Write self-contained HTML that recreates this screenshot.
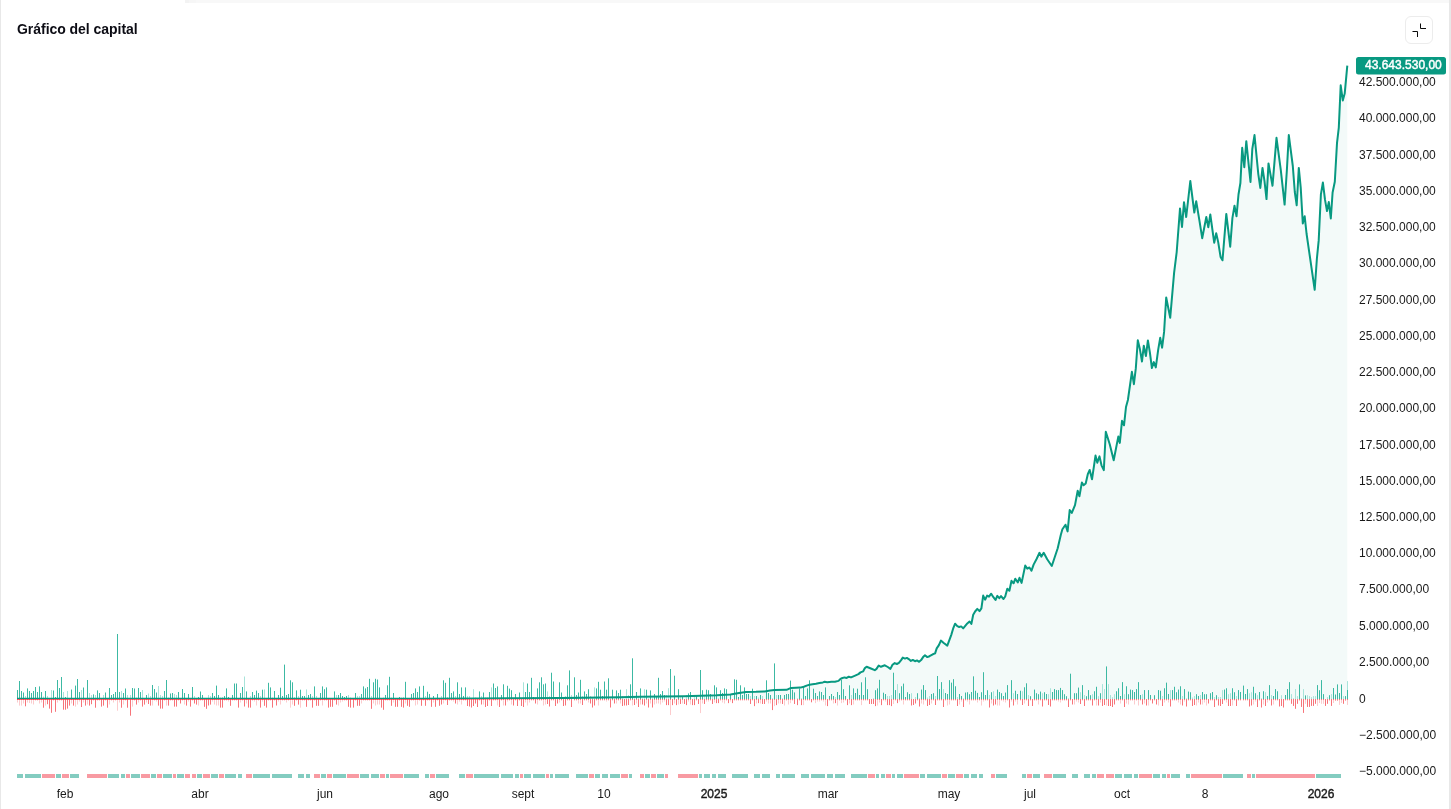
<!DOCTYPE html>
<html><head><meta charset="utf-8"><title>Gráfico del capital</title>
<style>
html,body{margin:0;padding:0;background:#fff;}
body{width:1451px;height:809px;position:relative;overflow:hidden;font-family:"Liberation Sans",sans-serif;color:#191919;}
.title,.yl,.xl,.badge{will-change:transform;}
.lb{position:absolute;left:0;top:0;width:1px;height:809px;background:#e8e8e8;}
.rb{position:absolute;left:1449px;top:0;width:2px;height:809px;background:#e8e8e8;}
.tb{position:absolute;left:185px;top:0;width:1264px;height:3px;background:linear-gradient(to right,#f3f3f3 0,#f3f3f3 4px,#f6f6f6 4px,#f6f6f6 11px,#f8f8f8 11px);}
.title{position:absolute;left:17px;top:21px;font-size:14px;font-weight:bold;line-height:16px;color:#0c0c14;letter-spacing:-0.04px;white-space:nowrap;}
.btn{position:absolute;left:1405px;top:16px;width:26px;height:26px;border:1px solid #ececec;border-radius:6px;background:#fff;}
.yl{position:absolute;left:1359px;font-size:12px;line-height:14px;height:14px;white-space:nowrap;color:#191919;}
.xl{position:absolute;top:787px;font-size:12px;line-height:14px;height:14px;white-space:nowrap;color:#191919;transform:translateX(-50%);}
.xl.b{font-weight:normal;-webkit-text-stroke:0.4px #191919;}
.badge{position:absolute;left:1356px;top:57px;width:90px;height:17px;color:#fff;font-size:12px;font-weight:normal;-webkit-text-stroke:0.45px #fff;line-height:17px;text-align:left;}
.badge span{position:absolute;left:9px;top:0;}
svg{position:absolute;left:0;top:0;}
</style></head><body>
<div class="lb"></div><div class="rb"></div><div class="tb"></div>
<div class="title">Gráfico del capital</div>
<div class="btn"><svg width="26" height="26" viewBox="0 0 26 26"><path d="M14.5 6.5v5h5.5M6.5 14.5h5v5.5" fill="none" stroke="#0a0a0a" stroke-width="1"/></svg></div>
<svg width="1451" height="809" viewBox="0 0 1451 809">
<path d="M17.0,698.7 L420.0,698.7 L480.0,698.5 L520.0,698.3 L560.0,698.1 L600.0,697.6 L620.0,697.2 L640.0,696.8 L662.0,696.5 L684.0,696.2 L700.6,695.8 L717.0,695.3 L730.4,694.5 L739.0,693.1 L746.0,692.0 L756.0,691.8 L764.6,691.4 L770.0,690.6 L774.5,690.1 L786.6,689.8 L791.0,687.9 L796.0,687.7 L800.0,687.6 L800.4,687.6 L803.8,686.7 L807.3,685.4 L809.5,684.8 L812.5,684.3 L816.0,683.8 L819.4,683.0 L822.9,682.4 L824.6,681.8 L827.2,682.3 L831.5,681.7 L835.0,681.8 L838.5,680.9 L840.2,679.2 L841.9,678.2 L844.5,677.4 L846.7,677.9 L848.8,676.7 L851.0,677.4 L854.0,676.1 L858.4,674.1 L860.5,672.4 L863.1,671.4 L864.9,668.1 L866.6,666.8 L870.9,668.5 L874.8,670.2 L876.5,668.9 L878.7,665.5 L880.9,666.8 L884.8,665.3 L887.8,667.0 L890.4,668.9 L892.5,664.7 L894.7,663.1 L896.9,664.0 L898.9,662.9 L901.1,660.1 L902.8,657.6 L905.0,658.6 L906.9,657.9 L909.1,659.3 L910.9,660.9 L912.8,659.9 L915.0,661.2 L917.0,660.4 L919.1,661.8 L921.1,660.1 L923.1,657.1 L925.0,655.3 L927.3,657.1 L929.5,656.2 L932.8,654.3 L935.1,653.4 L936.7,648.4 L938.9,645.1 L940.9,640.6 L943.4,642.8 L947.3,645.6 L951.2,635.1 L953.4,627.8 L955.1,623.7 L957.3,626.2 L959.2,627.0 L961.2,626.4 L963.2,628.4 L967.3,623.4 L969.5,621.5 L971.4,623.9 L973.2,614.8 L975.1,611.5 L977.3,608.9 L979.5,611.1 L981.4,608.4 L983.2,595.6 L985.1,599.7 L987.1,595.6 L989.0,596.7 L991.2,593.7 L993.4,597.2 L995.5,600.0 L997.3,595.9 L999.3,598.2 L1001.0,596.1 L1003.5,599.0 L1005.2,596.5 L1007.3,588.7 L1009.4,590.8 L1011.5,580.8 L1013.6,583.3 L1015.3,578.7 L1017.8,582.4 L1019.5,577.8 L1021.6,582.9 L1025.2,565.6 L1027.3,568.6 L1029.4,567.5 L1031.5,570.7 L1033.6,564.6 L1036.7,558.7 L1039.5,552.8 L1041.3,556.6 L1043.7,552.8 L1047.2,559.3 L1051.8,566.0 L1057.7,548.2 L1060.9,534.5 L1062.4,529.3 L1065.5,524.7 L1067.6,531.4 L1069.7,510.0 L1071.8,512.9 L1075.0,505.1 L1077.7,490.8 L1079.4,496.3 L1081.9,482.4 L1083.6,485.2 L1085.7,483.5 L1087.8,474.2 L1089.7,470.0 L1092.0,479.3 L1095.5,455.6 L1097.3,462.7 L1099.5,456.4 L1101.5,465.3 L1103.8,470.2 L1105.8,431.7 L1109.8,444.5 L1113.7,460.3 L1118.3,436.6 L1119.8,442.9 L1122.0,420.8 L1124.0,425.3 L1126.0,407.0 L1127.9,400.0 L1131.9,371.8 L1133.9,384.2 L1135.8,368.4 L1137.8,340.2 L1139.8,348.7 L1142.0,361.5 L1143.8,345.7 L1145.9,356.0 L1147.9,340.4 L1149.9,352.6 L1151.9,368.0 L1153.8,362.1 L1155.8,367.4 L1158.2,349.6 L1160.2,337.8 L1162.1,347.7 L1164.1,331.9 L1166.2,297.5 L1170.2,317.8 L1174.1,272.8 L1176.7,252.0 L1180.0,208.5 L1182.0,226.9 L1184.0,202.2 L1186.2,217.0 L1190.3,181.0 L1194.3,212.5 L1196.2,201.2 L1199.4,220.4 L1202.2,238.2 L1206.3,217.0 L1208.3,227.3 L1210.3,214.5 L1214.2,242.7 L1216.2,233.2 L1218.2,242.1 L1220.6,257.0 L1222.5,260.3 L1226.3,213.9 L1230.2,246.7 L1232.4,218.2 L1234.5,205.7 L1236.5,216.3 L1238.5,194.5 L1240.4,183.0 L1242.2,147.8 L1244.3,167.2 L1246.3,141.2 L1248.3,161.2 L1250.5,181.9 L1252.3,149.0 L1254.5,135.1 L1258.3,174.1 L1260.3,187.9 L1262.5,167.9 L1264.5,181.2 L1266.5,199.1 L1268.5,163.4 L1270.5,174.6 L1272.5,185.7 L1276.5,137.8 L1280.8,170.1 L1284.6,204.6 L1286.8,171.2 L1288.8,135.1 L1292.8,166.0 L1294.8,192.0 L1296.7,205.3 L1298.8,167.9 L1300.7,187.3 L1302.8,223.5 L1304.7,216.3 L1306.6,234.0 L1314.7,289.8 L1316.9,258.5 L1318.7,240.4 L1320.9,194.3 L1322.9,182.5 L1325.0,199.7 L1327.0,211.1 L1328.8,202.0 L1330.8,218.5 L1332.6,192.5 L1334.8,181.7 L1337.0,143.1 L1338.8,127.6 L1340.7,85.3 L1342.8,100.4 L1344.7,93.6 L1347.3,65.7 L1347.3,699 L17,699 Z" fill="#f3faf9" stroke="none"/>
<g>
<rect x="17" y="690.00" width="1" height="9.00" fill="#3cb9a3"/>
<rect x="17" y="699.00" width="1" height="1.30" fill="#f7747a"/>
<rect x="17" y="700.40" width="1" height="2.10" fill="#fccbcd"/>
<rect x="19" y="681.00" width="1" height="18.00" fill="#3cb9a3"/>
<rect x="19" y="699.00" width="1" height="1.30" fill="#f7747a"/>
<rect x="19" y="700.40" width="1" height="5.20" fill="#fccbcd"/>
<rect x="21" y="691.00" width="1" height="8.00" fill="#3cb9a3"/>
<rect x="21" y="699.00" width="1" height="1.30" fill="#f7747a"/>
<rect x="21" y="700.40" width="1" height="5.20" fill="#fccbcd"/>
<rect x="23" y="692.50" width="1" height="6.50" fill="#3cb9a3"/>
<rect x="23" y="699.00" width="1" height="1.30" fill="#f7747a"/>
<rect x="23" y="700.40" width="1" height="3.10" fill="#fccbcd"/>
<rect x="25" y="696.00" width="1" height="3.00" fill="#a8e4da"/>
<rect x="25" y="699.00" width="1" height="7.30" fill="#f7747a"/>
<rect x="27" y="688.40" width="1" height="10.60" fill="#3cb9a3"/>
<rect x="27" y="699.00" width="1" height="1.30" fill="#f7747a"/>
<rect x="27" y="700.40" width="1" height="2.10" fill="#fccbcd"/>
<rect x="29" y="691.00" width="1" height="8.00" fill="#3cb9a3"/>
<rect x="29" y="699.00" width="1" height="1.30" fill="#f7747a"/>
<rect x="29" y="700.40" width="1" height="2.60" fill="#fccbcd"/>
<rect x="31" y="693.00" width="1" height="6.00" fill="#3cb9a3"/>
<rect x="31" y="699.00" width="1" height="1.30" fill="#f7747a"/>
<rect x="31" y="700.40" width="1" height="3.10" fill="#fccbcd"/>
<rect x="33" y="691.00" width="1" height="8.00" fill="#3cb9a3"/>
<rect x="33" y="699.00" width="1" height="1.30" fill="#f7747a"/>
<rect x="33" y="700.40" width="1" height="4.10" fill="#fccbcd"/>
<rect x="35" y="687.00" width="1" height="12.00" fill="#3cb9a3"/>
<rect x="35" y="699.00" width="1" height="1.30" fill="#f7747a"/>
<rect x="37" y="692.00" width="1" height="7.00" fill="#3cb9a3"/>
<rect x="37" y="699.00" width="1" height="1.30" fill="#f7747a"/>
<rect x="39" y="686.40" width="1" height="12.60" fill="#3cb9a3"/>
<rect x="39" y="699.00" width="1" height="1.30" fill="#f7747a"/>
<rect x="39" y="700.40" width="1" height="3.10" fill="#fccbcd"/>
<rect x="41" y="692.00" width="1" height="7.00" fill="#3cb9a3"/>
<rect x="41" y="699.00" width="1" height="1.30" fill="#f7747a"/>
<rect x="41" y="700.40" width="1" height="2.10" fill="#fccbcd"/>
<rect x="43" y="696.50" width="1" height="2.50" fill="#a8e4da"/>
<rect x="43" y="699.00" width="1" height="8.70" fill="#f7747a"/>
<rect x="45" y="691.00" width="1" height="8.00" fill="#3cb9a3"/>
<rect x="45" y="699.00" width="1" height="1.30" fill="#f7747a"/>
<rect x="45" y="700.40" width="1" height="5.10" fill="#fccbcd"/>
<rect x="47" y="696.00" width="1" height="3.00" fill="#a8e4da"/>
<rect x="47" y="699.00" width="1" height="5.20" fill="#f7747a"/>
<rect x="49" y="698.20" width="1" height="0.80" fill="#a8e4da"/>
<rect x="49" y="699.00" width="1" height="9.60" fill="#f7747a"/>
<rect x="51" y="690.00" width="1" height="9.00" fill="#a8e4da"/>
<rect x="51" y="699.00" width="1" height="13.80" fill="#f7747a"/>
<rect x="53" y="690.50" width="1" height="8.50" fill="#3cb9a3"/>
<rect x="53" y="699.00" width="1" height="1.30" fill="#f7747a"/>
<rect x="55" y="697.00" width="1" height="2.00" fill="#3cb9a3"/>
<rect x="55" y="699.00" width="1" height="12.80" fill="#f7747a"/>
<rect x="57" y="680.00" width="1" height="19.00" fill="#3cb9a3"/>
<rect x="57" y="699.00" width="1" height="1.30" fill="#f7747a"/>
<rect x="57" y="700.40" width="1" height="2.10" fill="#fccbcd"/>
<rect x="59" y="688.00" width="1" height="11.00" fill="#3cb9a3"/>
<rect x="59" y="699.00" width="1" height="1.30" fill="#f7747a"/>
<rect x="61" y="677.00" width="1" height="22.00" fill="#3cb9a3"/>
<rect x="61" y="699.00" width="1" height="1.30" fill="#f7747a"/>
<rect x="63" y="692.00" width="1" height="7.00" fill="#a8e4da"/>
<rect x="63" y="699.00" width="1" height="10.70" fill="#f7747a"/>
<rect x="65" y="697.00" width="1" height="2.00" fill="#3cb9a3"/>
<rect x="65" y="699.00" width="1" height="10.70" fill="#f7747a"/>
<rect x="67" y="691.00" width="1" height="8.00" fill="#a8e4da"/>
<rect x="67" y="699.00" width="1" height="9.60" fill="#f7747a"/>
<rect x="69" y="699.00" width="1" height="6.60" fill="#f7747a"/>
<rect x="71" y="689.50" width="1" height="9.50" fill="#3cb9a3"/>
<rect x="71" y="699.00" width="1" height="1.30" fill="#f7747a"/>
<rect x="71" y="700.40" width="1" height="3.10" fill="#fccbcd"/>
<rect x="73" y="699.00" width="1" height="6.60" fill="#f7747a"/>
<rect x="75" y="685.60" width="1" height="13.40" fill="#3cb9a3"/>
<rect x="75" y="699.00" width="1" height="1.30" fill="#f7747a"/>
<rect x="75" y="700.40" width="1" height="6.20" fill="#fccbcd"/>
<rect x="77" y="679.00" width="1" height="20.00" fill="#3cb9a3"/>
<rect x="77" y="699.00" width="1" height="1.30" fill="#f7747a"/>
<rect x="77" y="700.40" width="1" height="4.10" fill="#fccbcd"/>
<rect x="79" y="692.00" width="1" height="7.00" fill="#3cb9a3"/>
<rect x="79" y="699.00" width="1" height="1.30" fill="#f7747a"/>
<rect x="79" y="700.40" width="1" height="1.10" fill="#fccbcd"/>
<rect x="81" y="690.00" width="1" height="9.00" fill="#a8e4da"/>
<rect x="81" y="699.00" width="1" height="8.00" fill="#f7747a"/>
<rect x="83" y="687.50" width="1" height="11.50" fill="#3cb9a3"/>
<rect x="83" y="699.00" width="1" height="1.30" fill="#f7747a"/>
<rect x="83" y="700.40" width="1" height="2.10" fill="#fccbcd"/>
<rect x="85" y="698.20" width="1" height="0.80" fill="#a8e4da"/>
<rect x="85" y="699.00" width="1" height="6.60" fill="#f7747a"/>
<rect x="87" y="680.00" width="1" height="19.00" fill="#3cb9a3"/>
<rect x="87" y="699.00" width="1" height="1.30" fill="#f7747a"/>
<rect x="87" y="700.40" width="1" height="4.10" fill="#fccbcd"/>
<rect x="89" y="693.00" width="1" height="6.00" fill="#a8e4da"/>
<rect x="89" y="699.00" width="1" height="6.60" fill="#f7747a"/>
<rect x="91" y="695.00" width="1" height="4.00" fill="#a8e4da"/>
<rect x="91" y="699.00" width="1" height="5.20" fill="#f7747a"/>
<rect x="93" y="694.40" width="1" height="4.60" fill="#3cb9a3"/>
<rect x="93" y="699.00" width="1" height="1.30" fill="#f7747a"/>
<rect x="95" y="695.00" width="1" height="4.00" fill="#a8e4da"/>
<rect x="95" y="699.00" width="1" height="8.70" fill="#f7747a"/>
<rect x="97" y="690.40" width="1" height="8.60" fill="#3cb9a3"/>
<rect x="97" y="699.00" width="1" height="1.30" fill="#f7747a"/>
<rect x="99" y="693.00" width="1" height="6.00" fill="#3cb9a3"/>
<rect x="99" y="699.00" width="1" height="1.30" fill="#f7747a"/>
<rect x="101" y="699.00" width="1" height="7.60" fill="#f7747a"/>
<rect x="103" y="695.00" width="1" height="4.00" fill="#a8e4da"/>
<rect x="103" y="699.00" width="1" height="6.60" fill="#f7747a"/>
<rect x="105" y="692.50" width="1" height="6.50" fill="#3cb9a3"/>
<rect x="105" y="699.00" width="1" height="1.30" fill="#f7747a"/>
<rect x="107" y="698.20" width="1" height="0.80" fill="#a8e4da"/>
<rect x="107" y="699.00" width="1" height="8.70" fill="#f7747a"/>
<rect x="109" y="688.00" width="1" height="11.00" fill="#3cb9a3"/>
<rect x="109" y="699.00" width="1" height="1.30" fill="#f7747a"/>
<rect x="109" y="700.40" width="1" height="4.10" fill="#fccbcd"/>
<rect x="111" y="695.00" width="1" height="4.00" fill="#3cb9a3"/>
<rect x="111" y="699.00" width="1" height="1.30" fill="#f7747a"/>
<rect x="113" y="694.00" width="1" height="5.00" fill="#3cb9a3"/>
<rect x="113" y="699.00" width="1" height="1.30" fill="#f7747a"/>
<rect x="113" y="700.40" width="1" height="2.10" fill="#fccbcd"/>
<rect x="115" y="692.00" width="1" height="7.00" fill="#3cb9a3"/>
<rect x="115" y="699.00" width="1" height="1.30" fill="#f7747a"/>
<rect x="117" y="634.00" width="1" height="65.00" fill="#3cb9a3"/>
<rect x="117" y="699.00" width="1" height="1.30" fill="#f7747a"/>
<rect x="117" y="700.40" width="1" height="10.30" fill="#fccbcd"/>
<rect x="119" y="692.00" width="1" height="7.00" fill="#3cb9a3"/>
<rect x="119" y="699.00" width="1" height="1.30" fill="#f7747a"/>
<rect x="119" y="700.40" width="1" height="2.10" fill="#fccbcd"/>
<rect x="121" y="691.00" width="1" height="8.00" fill="#a8e4da"/>
<rect x="121" y="699.00" width="1" height="8.70" fill="#f7747a"/>
<rect x="123" y="693.00" width="1" height="6.00" fill="#3cb9a3"/>
<rect x="123" y="699.00" width="1" height="1.30" fill="#f7747a"/>
<rect x="123" y="700.40" width="1" height="4.10" fill="#fccbcd"/>
<rect x="125" y="688.50" width="1" height="10.50" fill="#3cb9a3"/>
<rect x="125" y="699.00" width="1" height="1.30" fill="#f7747a"/>
<rect x="127" y="695.00" width="1" height="4.00" fill="#a8e4da"/>
<rect x="127" y="699.00" width="1" height="8.70" fill="#f7747a"/>
<rect x="130" y="695.00" width="1" height="4.00" fill="#a8e4da"/>
<rect x="130" y="699.00" width="1" height="16.70" fill="#f7747a"/>
<rect x="132" y="688.00" width="1" height="11.00" fill="#3cb9a3"/>
<rect x="132" y="699.00" width="1" height="1.30" fill="#f7747a"/>
<rect x="132" y="700.40" width="1" height="6.20" fill="#fccbcd"/>
<rect x="134" y="688.50" width="1" height="10.50" fill="#3cb9a3"/>
<rect x="134" y="699.00" width="1" height="1.30" fill="#f7747a"/>
<rect x="136" y="697.50" width="1" height="1.50" fill="#a8e4da"/>
<rect x="136" y="699.00" width="1" height="5.60" fill="#f7747a"/>
<rect x="138" y="688.00" width="1" height="11.00" fill="#3cb9a3"/>
<rect x="138" y="699.00" width="1" height="1.30" fill="#f7747a"/>
<rect x="138" y="700.40" width="1" height="2.10" fill="#fccbcd"/>
<rect x="140" y="692.00" width="1" height="7.00" fill="#3cb9a3"/>
<rect x="140" y="699.00" width="1" height="1.30" fill="#f7747a"/>
<rect x="142" y="690.00" width="1" height="9.00" fill="#a8e4da"/>
<rect x="142" y="699.00" width="1" height="7.60" fill="#f7747a"/>
<rect x="144" y="699.00" width="1" height="5.60" fill="#f7747a"/>
<rect x="146" y="695.00" width="1" height="4.00" fill="#3cb9a3"/>
<rect x="146" y="699.00" width="1" height="1.30" fill="#f7747a"/>
<rect x="146" y="700.40" width="1" height="2.10" fill="#fccbcd"/>
<rect x="148" y="693.50" width="1" height="5.50" fill="#a8e4da"/>
<rect x="148" y="699.00" width="1" height="5.00" fill="#f7747a"/>
<rect x="150" y="696.00" width="1" height="3.00" fill="#a8e4da"/>
<rect x="150" y="699.00" width="1" height="6.60" fill="#f7747a"/>
<rect x="152" y="685.00" width="1" height="14.00" fill="#3cb9a3"/>
<rect x="152" y="699.00" width="1" height="1.30" fill="#f7747a"/>
<rect x="152" y="700.40" width="1" height="5.10" fill="#fccbcd"/>
<rect x="154" y="689.00" width="1" height="10.00" fill="#3cb9a3"/>
<rect x="154" y="699.00" width="1" height="1.30" fill="#f7747a"/>
<rect x="156" y="692.50" width="1" height="6.50" fill="#3cb9a3"/>
<rect x="156" y="699.00" width="1" height="1.30" fill="#f7747a"/>
<rect x="156" y="700.40" width="1" height="1.10" fill="#fccbcd"/>
<rect x="158" y="686.00" width="1" height="13.00" fill="#a8e4da"/>
<rect x="158" y="699.00" width="1" height="6.60" fill="#f7747a"/>
<rect x="160" y="695.00" width="1" height="4.00" fill="#a8e4da"/>
<rect x="160" y="699.00" width="1" height="9.60" fill="#f7747a"/>
<rect x="162" y="696.00" width="1" height="3.00" fill="#a8e4da"/>
<rect x="162" y="699.00" width="1" height="9.60" fill="#f7747a"/>
<rect x="164" y="691.00" width="1" height="8.00" fill="#3cb9a3"/>
<rect x="164" y="699.00" width="1" height="1.30" fill="#f7747a"/>
<rect x="166" y="680.00" width="1" height="19.00" fill="#3cb9a3"/>
<rect x="166" y="699.00" width="1" height="1.30" fill="#f7747a"/>
<rect x="166" y="700.40" width="1" height="5.20" fill="#fccbcd"/>
<rect x="168" y="697.50" width="1" height="1.50" fill="#a8e4da"/>
<rect x="168" y="699.00" width="1" height="6.60" fill="#f7747a"/>
<rect x="170" y="693.50" width="1" height="5.50" fill="#3cb9a3"/>
<rect x="170" y="699.00" width="1" height="1.30" fill="#f7747a"/>
<rect x="172" y="693.00" width="1" height="6.00" fill="#3cb9a3"/>
<rect x="172" y="699.00" width="1" height="1.30" fill="#f7747a"/>
<rect x="174" y="694.00" width="1" height="5.00" fill="#a8e4da"/>
<rect x="174" y="699.00" width="1" height="7.60" fill="#f7747a"/>
<rect x="176" y="695.00" width="1" height="4.00" fill="#a8e4da"/>
<rect x="176" y="699.00" width="1" height="7.60" fill="#f7747a"/>
<rect x="178" y="692.00" width="1" height="7.00" fill="#3cb9a3"/>
<rect x="178" y="699.00" width="1" height="1.30" fill="#f7747a"/>
<rect x="180" y="699.00" width="1" height="4.50" fill="#f7747a"/>
<rect x="182" y="689.00" width="1" height="10.00" fill="#3cb9a3"/>
<rect x="182" y="699.00" width="1" height="1.30" fill="#f7747a"/>
<rect x="184" y="693.00" width="1" height="6.00" fill="#3cb9a3"/>
<rect x="184" y="699.00" width="1" height="1.30" fill="#f7747a"/>
<rect x="184" y="700.40" width="1" height="4.10" fill="#fccbcd"/>
<rect x="186" y="699.00" width="1" height="6.60" fill="#f7747a"/>
<rect x="188" y="694.00" width="1" height="5.00" fill="#3cb9a3"/>
<rect x="188" y="699.00" width="1" height="1.30" fill="#f7747a"/>
<rect x="188" y="700.40" width="1" height="1.10" fill="#fccbcd"/>
<rect x="190" y="699.00" width="1" height="7.60" fill="#f7747a"/>
<rect x="192" y="687.00" width="1" height="12.00" fill="#3cb9a3"/>
<rect x="192" y="699.00" width="1" height="1.30" fill="#f7747a"/>
<rect x="194" y="696.00" width="1" height="3.00" fill="#a8e4da"/>
<rect x="194" y="699.00" width="1" height="4.50" fill="#f7747a"/>
<rect x="196" y="699.00" width="1" height="5.60" fill="#f7747a"/>
<rect x="198" y="697.00" width="1" height="2.00" fill="#3cb9a3"/>
<rect x="198" y="699.00" width="1" height="1.30" fill="#f7747a"/>
<rect x="198" y="700.40" width="1" height="5.10" fill="#fccbcd"/>
<rect x="200" y="691.50" width="1" height="7.50" fill="#3cb9a3"/>
<rect x="200" y="699.00" width="1" height="1.30" fill="#f7747a"/>
<rect x="202" y="695.00" width="1" height="4.00" fill="#3cb9a3"/>
<rect x="202" y="699.00" width="1" height="1.30" fill="#f7747a"/>
<rect x="204" y="698.20" width="1" height="0.80" fill="#a8e4da"/>
<rect x="204" y="699.00" width="1" height="7.80" fill="#f7747a"/>
<rect x="206" y="699.00" width="1" height="9.80" fill="#f7747a"/>
<rect x="208" y="695.00" width="1" height="4.00" fill="#a8e4da"/>
<rect x="208" y="699.00" width="1" height="6.50" fill="#f7747a"/>
<rect x="210" y="696.00" width="1" height="3.00" fill="#a8e4da"/>
<rect x="210" y="699.00" width="1" height="5.60" fill="#f7747a"/>
<rect x="212" y="693.00" width="1" height="6.00" fill="#3cb9a3"/>
<rect x="212" y="699.00" width="1" height="1.30" fill="#f7747a"/>
<rect x="212" y="700.40" width="1" height="1.10" fill="#fccbcd"/>
<rect x="214" y="696.00" width="1" height="3.00" fill="#3cb9a3"/>
<rect x="214" y="699.00" width="1" height="1.30" fill="#f7747a"/>
<rect x="214" y="700.40" width="1" height="4.10" fill="#fccbcd"/>
<rect x="216" y="685.60" width="1" height="13.40" fill="#3cb9a3"/>
<rect x="216" y="699.00" width="1" height="1.30" fill="#f7747a"/>
<rect x="216" y="700.40" width="1" height="5.10" fill="#fccbcd"/>
<rect x="218" y="695.00" width="1" height="4.00" fill="#3cb9a3"/>
<rect x="218" y="699.00" width="1" height="1.30" fill="#f7747a"/>
<rect x="218" y="700.40" width="1" height="5.10" fill="#fccbcd"/>
<rect x="220" y="697.50" width="1" height="1.50" fill="#a8e4da"/>
<rect x="220" y="699.00" width="1" height="8.60" fill="#f7747a"/>
<rect x="222" y="697.00" width="1" height="2.00" fill="#a8e4da"/>
<rect x="222" y="699.00" width="1" height="8.60" fill="#f7747a"/>
<rect x="224" y="696.00" width="1" height="3.00" fill="#3cb9a3"/>
<rect x="224" y="699.00" width="1" height="1.30" fill="#f7747a"/>
<rect x="226" y="688.40" width="1" height="10.60" fill="#3cb9a3"/>
<rect x="226" y="699.00" width="1" height="1.30" fill="#f7747a"/>
<rect x="228" y="697.00" width="1" height="2.00" fill="#3cb9a3"/>
<rect x="228" y="699.00" width="1" height="1.30" fill="#f7747a"/>
<rect x="228" y="700.40" width="1" height="1.10" fill="#fccbcd"/>
<rect x="230" y="699.00" width="1" height="6.80" fill="#f7747a"/>
<rect x="232" y="695.00" width="1" height="4.00" fill="#3cb9a3"/>
<rect x="232" y="699.00" width="1" height="1.30" fill="#f7747a"/>
<rect x="234" y="683.50" width="1" height="15.50" fill="#3cb9a3"/>
<rect x="234" y="699.00" width="1" height="1.30" fill="#f7747a"/>
<rect x="236" y="683.50" width="1" height="15.50" fill="#3cb9a3"/>
<rect x="236" y="699.00" width="1" height="1.30" fill="#f7747a"/>
<rect x="238" y="699.00" width="1" height="8.60" fill="#f7747a"/>
<rect x="240" y="693.00" width="1" height="6.00" fill="#3cb9a3"/>
<rect x="240" y="699.00" width="1" height="1.30" fill="#f7747a"/>
<rect x="240" y="700.40" width="1" height="2.10" fill="#fccbcd"/>
<rect x="242" y="687.00" width="1" height="12.00" fill="#3cb9a3"/>
<rect x="242" y="699.00" width="1" height="1.30" fill="#f7747a"/>
<rect x="244" y="676.50" width="1" height="22.50" fill="#a8e4da"/>
<rect x="244" y="699.00" width="1" height="7.50" fill="#f7747a"/>
<rect x="246" y="691.40" width="1" height="7.60" fill="#3cb9a3"/>
<rect x="246" y="699.00" width="1" height="1.30" fill="#f7747a"/>
<rect x="246" y="700.40" width="1" height="3.10" fill="#fccbcd"/>
<rect x="248" y="698.20" width="1" height="0.80" fill="#a8e4da"/>
<rect x="248" y="699.00" width="1" height="8.60" fill="#f7747a"/>
<rect x="250" y="696.00" width="1" height="3.00" fill="#a8e4da"/>
<rect x="250" y="699.00" width="1" height="8.60" fill="#f7747a"/>
<rect x="252" y="692.00" width="1" height="7.00" fill="#3cb9a3"/>
<rect x="252" y="699.00" width="1" height="1.30" fill="#f7747a"/>
<rect x="254" y="695.00" width="1" height="4.00" fill="#3cb9a3"/>
<rect x="254" y="699.00" width="1" height="1.30" fill="#f7747a"/>
<rect x="254" y="700.40" width="1" height="1.10" fill="#fccbcd"/>
<rect x="256" y="690.60" width="1" height="8.40" fill="#3cb9a3"/>
<rect x="256" y="699.00" width="1" height="1.30" fill="#f7747a"/>
<rect x="256" y="700.40" width="1" height="5.10" fill="#fccbcd"/>
<rect x="258" y="693.00" width="1" height="6.00" fill="#3cb9a3"/>
<rect x="258" y="699.00" width="1" height="1.30" fill="#f7747a"/>
<rect x="260" y="696.00" width="1" height="3.00" fill="#a8e4da"/>
<rect x="260" y="699.00" width="1" height="8.60" fill="#f7747a"/>
<rect x="262" y="689.70" width="1" height="9.30" fill="#3cb9a3"/>
<rect x="262" y="699.00" width="1" height="1.30" fill="#f7747a"/>
<rect x="262" y="700.40" width="1" height="1.10" fill="#fccbcd"/>
<rect x="264" y="689.40" width="1" height="9.60" fill="#a8e4da"/>
<rect x="264" y="699.00" width="1" height="6.80" fill="#f7747a"/>
<rect x="266" y="698.20" width="1" height="0.80" fill="#a8e4da"/>
<rect x="266" y="699.00" width="1" height="8.60" fill="#f7747a"/>
<rect x="268" y="682.80" width="1" height="16.20" fill="#3cb9a3"/>
<rect x="268" y="699.00" width="1" height="1.30" fill="#f7747a"/>
<rect x="270" y="687.40" width="1" height="11.60" fill="#3cb9a3"/>
<rect x="270" y="699.00" width="1" height="1.30" fill="#f7747a"/>
<rect x="272" y="697.50" width="1" height="1.50" fill="#a8e4da"/>
<rect x="272" y="699.00" width="1" height="8.60" fill="#f7747a"/>
<rect x="274" y="691.00" width="1" height="8.00" fill="#3cb9a3"/>
<rect x="274" y="699.00" width="1" height="1.30" fill="#f7747a"/>
<rect x="276" y="698.20" width="1" height="0.80" fill="#a8e4da"/>
<rect x="276" y="699.00" width="1" height="6.50" fill="#f7747a"/>
<rect x="278" y="695.00" width="1" height="4.00" fill="#3cb9a3"/>
<rect x="278" y="699.00" width="1" height="1.30" fill="#f7747a"/>
<rect x="278" y="700.40" width="1" height="1.10" fill="#fccbcd"/>
<rect x="280" y="687.70" width="1" height="11.30" fill="#3cb9a3"/>
<rect x="280" y="699.00" width="1" height="1.30" fill="#f7747a"/>
<rect x="280" y="700.40" width="1" height="4.10" fill="#fccbcd"/>
<rect x="282" y="696.00" width="1" height="3.00" fill="#3cb9a3"/>
<rect x="282" y="699.00" width="1" height="1.30" fill="#f7747a"/>
<rect x="284" y="664.60" width="1" height="34.40" fill="#3cb9a3"/>
<rect x="284" y="699.00" width="1" height="1.30" fill="#f7747a"/>
<rect x="286" y="695.00" width="1" height="4.00" fill="#3cb9a3"/>
<rect x="286" y="699.00" width="1" height="1.30" fill="#f7747a"/>
<rect x="286" y="700.40" width="1" height="2.10" fill="#fccbcd"/>
<rect x="288" y="694.00" width="1" height="5.00" fill="#3cb9a3"/>
<rect x="288" y="699.00" width="1" height="1.30" fill="#f7747a"/>
<rect x="290" y="680.30" width="1" height="18.70" fill="#3cb9a3"/>
<rect x="290" y="699.00" width="1" height="1.30" fill="#f7747a"/>
<rect x="290" y="700.40" width="1" height="7.20" fill="#fccbcd"/>
<rect x="292" y="682.30" width="1" height="16.70" fill="#3cb9a3"/>
<rect x="292" y="699.00" width="1" height="1.30" fill="#f7747a"/>
<rect x="292" y="700.40" width="1" height="4.10" fill="#fccbcd"/>
<rect x="294" y="697.00" width="1" height="2.00" fill="#a8e4da"/>
<rect x="294" y="699.00" width="1" height="6.80" fill="#f7747a"/>
<rect x="296" y="690.40" width="1" height="8.60" fill="#3cb9a3"/>
<rect x="296" y="699.00" width="1" height="1.30" fill="#f7747a"/>
<rect x="298" y="696.00" width="1" height="3.00" fill="#a8e4da"/>
<rect x="298" y="699.00" width="1" height="5.60" fill="#f7747a"/>
<rect x="300" y="689.70" width="1" height="9.30" fill="#3cb9a3"/>
<rect x="300" y="699.00" width="1" height="1.30" fill="#f7747a"/>
<rect x="300" y="700.40" width="1" height="7.20" fill="#fccbcd"/>
<rect x="302" y="696.00" width="1" height="3.00" fill="#3cb9a3"/>
<rect x="302" y="699.00" width="1" height="1.30" fill="#f7747a"/>
<rect x="304" y="696.00" width="1" height="3.00" fill="#3cb9a3"/>
<rect x="304" y="699.00" width="1" height="1.30" fill="#f7747a"/>
<rect x="306" y="689.40" width="1" height="9.60" fill="#a8e4da"/>
<rect x="306" y="699.00" width="1" height="7.80" fill="#f7747a"/>
<rect x="308" y="695.00" width="1" height="4.00" fill="#3cb9a3"/>
<rect x="308" y="699.00" width="1" height="1.30" fill="#f7747a"/>
<rect x="310" y="694.00" width="1" height="5.00" fill="#3cb9a3"/>
<rect x="310" y="699.00" width="1" height="1.30" fill="#f7747a"/>
<rect x="312" y="696.00" width="1" height="3.00" fill="#a8e4da"/>
<rect x="312" y="699.00" width="1" height="8.60" fill="#f7747a"/>
<rect x="314" y="686.40" width="1" height="12.60" fill="#3cb9a3"/>
<rect x="314" y="699.00" width="1" height="1.30" fill="#f7747a"/>
<rect x="316" y="696.00" width="1" height="3.00" fill="#a8e4da"/>
<rect x="316" y="699.00" width="1" height="6.80" fill="#f7747a"/>
<rect x="318" y="698.20" width="1" height="0.80" fill="#a8e4da"/>
<rect x="318" y="699.00" width="1" height="6.80" fill="#f7747a"/>
<rect x="320" y="693.00" width="1" height="6.00" fill="#3cb9a3"/>
<rect x="320" y="699.00" width="1" height="1.30" fill="#f7747a"/>
<rect x="322" y="686.40" width="1" height="12.60" fill="#3cb9a3"/>
<rect x="322" y="699.00" width="1" height="1.30" fill="#f7747a"/>
<rect x="322" y="700.40" width="1" height="5.10" fill="#fccbcd"/>
<rect x="324" y="689.20" width="1" height="9.80" fill="#3cb9a3"/>
<rect x="324" y="699.00" width="1" height="1.30" fill="#f7747a"/>
<rect x="326" y="687.40" width="1" height="11.60" fill="#3cb9a3"/>
<rect x="326" y="699.00" width="1" height="1.30" fill="#f7747a"/>
<rect x="328" y="698.20" width="1" height="0.80" fill="#a8e4da"/>
<rect x="328" y="699.00" width="1" height="8.60" fill="#f7747a"/>
<rect x="330" y="698.20" width="1" height="0.80" fill="#a8e4da"/>
<rect x="330" y="699.00" width="1" height="7.80" fill="#f7747a"/>
<rect x="332" y="698.20" width="1" height="0.80" fill="#a8e4da"/>
<rect x="332" y="699.00" width="1" height="7.80" fill="#f7747a"/>
<rect x="334" y="691.40" width="1" height="7.60" fill="#3cb9a3"/>
<rect x="334" y="699.00" width="1" height="1.30" fill="#f7747a"/>
<rect x="336" y="695.00" width="1" height="4.00" fill="#a8e4da"/>
<rect x="336" y="699.00" width="1" height="5.60" fill="#f7747a"/>
<rect x="338" y="695.00" width="1" height="4.00" fill="#3cb9a3"/>
<rect x="338" y="699.00" width="1" height="1.30" fill="#f7747a"/>
<rect x="338" y="700.40" width="1" height="5.10" fill="#fccbcd"/>
<rect x="340" y="693.00" width="1" height="6.00" fill="#3cb9a3"/>
<rect x="340" y="699.00" width="1" height="1.30" fill="#f7747a"/>
<rect x="340" y="700.40" width="1" height="2.10" fill="#fccbcd"/>
<rect x="342" y="696.00" width="1" height="3.00" fill="#3cb9a3"/>
<rect x="342" y="699.00" width="1" height="1.30" fill="#f7747a"/>
<rect x="342" y="700.40" width="1" height="1.10" fill="#fccbcd"/>
<rect x="344" y="697.00" width="1" height="2.00" fill="#3cb9a3"/>
<rect x="344" y="699.00" width="1" height="1.30" fill="#f7747a"/>
<rect x="346" y="696.00" width="1" height="3.00" fill="#3cb9a3"/>
<rect x="346" y="699.00" width="1" height="1.30" fill="#f7747a"/>
<rect x="348" y="695.00" width="1" height="4.00" fill="#a8e4da"/>
<rect x="348" y="699.00" width="1" height="7.80" fill="#f7747a"/>
<rect x="350" y="697.50" width="1" height="1.50" fill="#a8e4da"/>
<rect x="350" y="699.00" width="1" height="8.60" fill="#f7747a"/>
<rect x="353" y="698.20" width="1" height="0.80" fill="#a8e4da"/>
<rect x="353" y="699.00" width="1" height="8.60" fill="#f7747a"/>
<rect x="355" y="693.00" width="1" height="6.00" fill="#3cb9a3"/>
<rect x="355" y="699.00" width="1" height="1.30" fill="#f7747a"/>
<rect x="357" y="696.00" width="1" height="3.00" fill="#a8e4da"/>
<rect x="357" y="699.00" width="1" height="6.80" fill="#f7747a"/>
<rect x="359" y="696.00" width="1" height="3.00" fill="#a8e4da"/>
<rect x="359" y="699.00" width="1" height="6.80" fill="#f7747a"/>
<rect x="361" y="694.00" width="1" height="5.00" fill="#3cb9a3"/>
<rect x="361" y="699.00" width="1" height="1.30" fill="#f7747a"/>
<rect x="361" y="700.40" width="1" height="3.10" fill="#fccbcd"/>
<rect x="363" y="686.40" width="1" height="12.60" fill="#3cb9a3"/>
<rect x="363" y="699.00" width="1" height="1.30" fill="#f7747a"/>
<rect x="365" y="688.40" width="1" height="10.60" fill="#3cb9a3"/>
<rect x="365" y="699.00" width="1" height="1.30" fill="#f7747a"/>
<rect x="367" y="687.00" width="1" height="12.00" fill="#3cb9a3"/>
<rect x="367" y="699.00" width="1" height="1.30" fill="#f7747a"/>
<rect x="369" y="678.80" width="1" height="20.20" fill="#3cb9a3"/>
<rect x="369" y="699.00" width="1" height="1.30" fill="#f7747a"/>
<rect x="371" y="696.00" width="1" height="3.00" fill="#a8e4da"/>
<rect x="371" y="699.00" width="1" height="9.80" fill="#f7747a"/>
<rect x="373" y="682.30" width="1" height="16.70" fill="#3cb9a3"/>
<rect x="373" y="699.00" width="1" height="1.30" fill="#f7747a"/>
<rect x="373" y="700.40" width="1" height="3.10" fill="#fccbcd"/>
<rect x="375" y="678.80" width="1" height="20.20" fill="#3cb9a3"/>
<rect x="375" y="699.00" width="1" height="1.30" fill="#f7747a"/>
<rect x="375" y="700.40" width="1" height="5.10" fill="#fccbcd"/>
<rect x="377" y="679.50" width="1" height="19.50" fill="#3cb9a3"/>
<rect x="377" y="699.00" width="1" height="1.30" fill="#f7747a"/>
<rect x="377" y="700.40" width="1" height="4.10" fill="#fccbcd"/>
<rect x="379" y="687.40" width="1" height="11.60" fill="#3cb9a3"/>
<rect x="379" y="699.00" width="1" height="1.30" fill="#f7747a"/>
<rect x="379" y="700.40" width="1" height="4.10" fill="#fccbcd"/>
<rect x="381" y="699.00" width="1" height="8.60" fill="#f7747a"/>
<rect x="383" y="697.50" width="1" height="1.50" fill="#a8e4da"/>
<rect x="383" y="699.00" width="1" height="10.80" fill="#f7747a"/>
<rect x="385" y="695.00" width="1" height="4.00" fill="#3cb9a3"/>
<rect x="385" y="699.00" width="1" height="1.30" fill="#f7747a"/>
<rect x="387" y="685.30" width="1" height="13.70" fill="#3cb9a3"/>
<rect x="387" y="699.00" width="1" height="1.30" fill="#f7747a"/>
<rect x="389" y="676.80" width="1" height="22.20" fill="#3cb9a3"/>
<rect x="389" y="699.00" width="1" height="1.30" fill="#f7747a"/>
<rect x="391" y="697.50" width="1" height="1.50" fill="#a8e4da"/>
<rect x="391" y="699.00" width="1" height="6.80" fill="#f7747a"/>
<rect x="393" y="693.00" width="1" height="6.00" fill="#3cb9a3"/>
<rect x="393" y="699.00" width="1" height="1.30" fill="#f7747a"/>
<rect x="393" y="700.40" width="1" height="2.10" fill="#fccbcd"/>
<rect x="395" y="698.20" width="1" height="0.80" fill="#a8e4da"/>
<rect x="395" y="699.00" width="1" height="7.80" fill="#f7747a"/>
<rect x="397" y="699.00" width="1" height="7.80" fill="#f7747a"/>
<rect x="399" y="697.00" width="1" height="2.00" fill="#3cb9a3"/>
<rect x="399" y="699.00" width="1" height="1.30" fill="#f7747a"/>
<rect x="401" y="697.50" width="1" height="1.50" fill="#a8e4da"/>
<rect x="401" y="699.00" width="1" height="7.80" fill="#f7747a"/>
<rect x="403" y="697.00" width="1" height="2.00" fill="#a8e4da"/>
<rect x="403" y="699.00" width="1" height="8.60" fill="#f7747a"/>
<rect x="405" y="681.80" width="1" height="17.20" fill="#3cb9a3"/>
<rect x="405" y="699.00" width="1" height="1.30" fill="#f7747a"/>
<rect x="405" y="700.40" width="1" height="3.10" fill="#fccbcd"/>
<rect x="407" y="698.20" width="1" height="0.80" fill="#a8e4da"/>
<rect x="407" y="699.00" width="1" height="6.80" fill="#f7747a"/>
<rect x="409" y="699.00" width="1" height="7.80" fill="#f7747a"/>
<rect x="411" y="694.00" width="1" height="5.00" fill="#3cb9a3"/>
<rect x="411" y="699.00" width="1" height="1.30" fill="#f7747a"/>
<rect x="413" y="693.00" width="1" height="6.00" fill="#3cb9a3"/>
<rect x="413" y="699.00" width="1" height="1.30" fill="#f7747a"/>
<rect x="415" y="688.40" width="1" height="10.60" fill="#3cb9a3"/>
<rect x="415" y="699.00" width="1" height="1.30" fill="#f7747a"/>
<rect x="415" y="700.40" width="1" height="5.10" fill="#fccbcd"/>
<rect x="417" y="692.00" width="1" height="7.00" fill="#3cb9a3"/>
<rect x="417" y="699.00" width="1" height="1.30" fill="#f7747a"/>
<rect x="417" y="700.40" width="1" height="4.10" fill="#fccbcd"/>
<rect x="419" y="686.40" width="1" height="12.60" fill="#3cb9a3"/>
<rect x="419" y="699.00" width="1" height="1.30" fill="#f7747a"/>
<rect x="421" y="699.00" width="1" height="6.80" fill="#f7747a"/>
<rect x="423" y="685.80" width="1" height="13.20" fill="#3cb9a3"/>
<rect x="423" y="699.00" width="1" height="1.30" fill="#f7747a"/>
<rect x="425" y="696.00" width="1" height="3.00" fill="#a8e4da"/>
<rect x="425" y="699.00" width="1" height="6.80" fill="#f7747a"/>
<rect x="427" y="691.70" width="1" height="7.30" fill="#3cb9a3"/>
<rect x="427" y="699.00" width="1" height="1.30" fill="#f7747a"/>
<rect x="429" y="694.00" width="1" height="5.00" fill="#3cb9a3"/>
<rect x="429" y="699.00" width="1" height="1.30" fill="#f7747a"/>
<rect x="431" y="699.00" width="1" height="7.80" fill="#f7747a"/>
<rect x="433" y="696.00" width="1" height="3.00" fill="#3cb9a3"/>
<rect x="433" y="699.00" width="1" height="1.30" fill="#f7747a"/>
<rect x="433" y="700.40" width="1" height="2.10" fill="#fccbcd"/>
<rect x="435" y="699.00" width="1" height="7.80" fill="#f7747a"/>
<rect x="437" y="694.00" width="1" height="5.00" fill="#3cb9a3"/>
<rect x="437" y="699.00" width="1" height="1.30" fill="#f7747a"/>
<rect x="439" y="698.20" width="1" height="0.80" fill="#a8e4da"/>
<rect x="439" y="699.00" width="1" height="6.80" fill="#f7747a"/>
<rect x="441" y="696.00" width="1" height="3.00" fill="#a8e4da"/>
<rect x="441" y="699.00" width="1" height="5.50" fill="#f7747a"/>
<rect x="443" y="680.30" width="1" height="18.70" fill="#3cb9a3"/>
<rect x="443" y="699.00" width="1" height="1.30" fill="#f7747a"/>
<rect x="443" y="700.40" width="1" height="3.10" fill="#fccbcd"/>
<rect x="445" y="682.80" width="1" height="16.20" fill="#3cb9a3"/>
<rect x="445" y="699.00" width="1" height="1.30" fill="#f7747a"/>
<rect x="447" y="697.00" width="1" height="2.00" fill="#a8e4da"/>
<rect x="447" y="699.00" width="1" height="6.00" fill="#f7747a"/>
<rect x="449" y="677.80" width="1" height="21.20" fill="#3cb9a3"/>
<rect x="449" y="699.00" width="1" height="1.30" fill="#f7747a"/>
<rect x="451" y="693.00" width="1" height="6.00" fill="#3cb9a3"/>
<rect x="451" y="699.00" width="1" height="1.30" fill="#f7747a"/>
<rect x="453" y="691.40" width="1" height="7.60" fill="#3cb9a3"/>
<rect x="453" y="699.00" width="1" height="1.30" fill="#f7747a"/>
<rect x="453" y="700.40" width="1" height="1.10" fill="#fccbcd"/>
<rect x="455" y="696.00" width="1" height="3.00" fill="#a8e4da"/>
<rect x="455" y="699.00" width="1" height="4.50" fill="#f7747a"/>
<rect x="457" y="682.30" width="1" height="16.70" fill="#3cb9a3"/>
<rect x="457" y="699.00" width="1" height="1.30" fill="#f7747a"/>
<rect x="457" y="700.40" width="1" height="4.10" fill="#fccbcd"/>
<rect x="459" y="694.00" width="1" height="5.00" fill="#3cb9a3"/>
<rect x="459" y="699.00" width="1" height="1.30" fill="#f7747a"/>
<rect x="459" y="700.40" width="1" height="1.10" fill="#fccbcd"/>
<rect x="461" y="687.40" width="1" height="11.60" fill="#3cb9a3"/>
<rect x="461" y="699.00" width="1" height="1.30" fill="#f7747a"/>
<rect x="461" y="700.40" width="1" height="4.10" fill="#fccbcd"/>
<rect x="463" y="696.00" width="1" height="3.00" fill="#3cb9a3"/>
<rect x="463" y="699.00" width="1" height="1.30" fill="#f7747a"/>
<rect x="465" y="687.40" width="1" height="11.60" fill="#3cb9a3"/>
<rect x="465" y="699.00" width="1" height="1.30" fill="#f7747a"/>
<rect x="467" y="696.00" width="1" height="3.00" fill="#a8e4da"/>
<rect x="467" y="699.00" width="1" height="7.00" fill="#f7747a"/>
<rect x="469" y="696.00" width="1" height="3.00" fill="#a8e4da"/>
<rect x="469" y="699.00" width="1" height="7.50" fill="#f7747a"/>
<rect x="471" y="699.00" width="1" height="8.50" fill="#f7747a"/>
<rect x="473" y="689.20" width="1" height="9.80" fill="#a8e4da"/>
<rect x="473" y="699.00" width="1" height="7.00" fill="#f7747a"/>
<rect x="475" y="697.50" width="1" height="1.50" fill="#a8e4da"/>
<rect x="475" y="699.00" width="1" height="4.50" fill="#f7747a"/>
<rect x="477" y="699.00" width="1" height="8.00" fill="#f7747a"/>
<rect x="479" y="691.40" width="1" height="7.60" fill="#3cb9a3"/>
<rect x="479" y="699.00" width="1" height="1.30" fill="#f7747a"/>
<rect x="481" y="696.00" width="1" height="3.00" fill="#a8e4da"/>
<rect x="481" y="699.00" width="1" height="5.50" fill="#f7747a"/>
<rect x="483" y="692.50" width="1" height="6.50" fill="#3cb9a3"/>
<rect x="483" y="699.00" width="1" height="1.30" fill="#f7747a"/>
<rect x="483" y="700.40" width="1" height="4.10" fill="#fccbcd"/>
<rect x="485" y="697.50" width="1" height="1.50" fill="#a8e4da"/>
<rect x="485" y="699.00" width="1" height="8.00" fill="#f7747a"/>
<rect x="487" y="697.50" width="1" height="1.50" fill="#a8e4da"/>
<rect x="487" y="699.00" width="1" height="7.00" fill="#f7747a"/>
<rect x="489" y="692.00" width="1" height="7.00" fill="#3cb9a3"/>
<rect x="489" y="699.00" width="1" height="1.30" fill="#f7747a"/>
<rect x="491" y="687.40" width="1" height="11.60" fill="#a8e4da"/>
<rect x="491" y="699.00" width="1" height="7.00" fill="#f7747a"/>
<rect x="493" y="683.50" width="1" height="15.50" fill="#3cb9a3"/>
<rect x="493" y="699.00" width="1" height="1.30" fill="#f7747a"/>
<rect x="495" y="688.00" width="1" height="11.00" fill="#3cb9a3"/>
<rect x="495" y="699.00" width="1" height="1.30" fill="#f7747a"/>
<rect x="497" y="686.40" width="1" height="12.60" fill="#3cb9a3"/>
<rect x="497" y="699.00" width="1" height="1.30" fill="#f7747a"/>
<rect x="497" y="700.40" width="1" height="5.10" fill="#fccbcd"/>
<rect x="499" y="698.20" width="1" height="0.80" fill="#a8e4da"/>
<rect x="499" y="699.00" width="1" height="8.00" fill="#f7747a"/>
<rect x="501" y="695.00" width="1" height="4.00" fill="#3cb9a3"/>
<rect x="501" y="699.00" width="1" height="1.30" fill="#f7747a"/>
<rect x="503" y="684.30" width="1" height="14.70" fill="#3cb9a3"/>
<rect x="503" y="699.00" width="1" height="1.30" fill="#f7747a"/>
<rect x="503" y="700.40" width="1" height="5.10" fill="#fccbcd"/>
<rect x="505" y="698.20" width="1" height="0.80" fill="#a8e4da"/>
<rect x="505" y="699.00" width="1" height="6.50" fill="#f7747a"/>
<rect x="507" y="685.80" width="1" height="13.20" fill="#3cb9a3"/>
<rect x="507" y="699.00" width="1" height="1.30" fill="#f7747a"/>
<rect x="507" y="700.40" width="1" height="1.10" fill="#fccbcd"/>
<rect x="509" y="688.60" width="1" height="10.40" fill="#3cb9a3"/>
<rect x="509" y="699.00" width="1" height="1.30" fill="#f7747a"/>
<rect x="511" y="690.20" width="1" height="8.80" fill="#3cb9a3"/>
<rect x="511" y="699.00" width="1" height="1.30" fill="#f7747a"/>
<rect x="511" y="700.40" width="1" height="4.10" fill="#fccbcd"/>
<rect x="513" y="698.20" width="1" height="0.80" fill="#a8e4da"/>
<rect x="513" y="699.00" width="1" height="6.50" fill="#f7747a"/>
<rect x="515" y="694.00" width="1" height="5.00" fill="#3cb9a3"/>
<rect x="515" y="699.00" width="1" height="1.30" fill="#f7747a"/>
<rect x="517" y="698.20" width="1" height="0.80" fill="#a8e4da"/>
<rect x="517" y="699.00" width="1" height="7.00" fill="#f7747a"/>
<rect x="519" y="692.50" width="1" height="6.50" fill="#3cb9a3"/>
<rect x="519" y="699.00" width="1" height="1.30" fill="#f7747a"/>
<rect x="521" y="698.20" width="1" height="0.80" fill="#a8e4da"/>
<rect x="521" y="699.00" width="1" height="7.00" fill="#f7747a"/>
<rect x="523" y="682.30" width="1" height="16.70" fill="#a8e4da"/>
<rect x="523" y="699.00" width="1" height="8.00" fill="#f7747a"/>
<rect x="525" y="692.00" width="1" height="7.00" fill="#3cb9a3"/>
<rect x="525" y="699.00" width="1" height="1.30" fill="#f7747a"/>
<rect x="525" y="700.40" width="1" height="2.10" fill="#fccbcd"/>
<rect x="527" y="683.50" width="1" height="15.50" fill="#3cb9a3"/>
<rect x="527" y="699.00" width="1" height="1.30" fill="#f7747a"/>
<rect x="527" y="700.40" width="1" height="5.10" fill="#fccbcd"/>
<rect x="529" y="692.00" width="1" height="7.00" fill="#3cb9a3"/>
<rect x="529" y="699.00" width="1" height="1.30" fill="#f7747a"/>
<rect x="529" y="700.40" width="1" height="2.10" fill="#fccbcd"/>
<rect x="531" y="677.80" width="1" height="21.20" fill="#3cb9a3"/>
<rect x="531" y="699.00" width="1" height="1.30" fill="#f7747a"/>
<rect x="533" y="697.00" width="1" height="2.00" fill="#3cb9a3"/>
<rect x="533" y="699.00" width="1" height="1.30" fill="#f7747a"/>
<rect x="535" y="697.50" width="1" height="1.50" fill="#a8e4da"/>
<rect x="535" y="699.00" width="1" height="4.50" fill="#f7747a"/>
<rect x="537" y="688.40" width="1" height="10.60" fill="#3cb9a3"/>
<rect x="537" y="699.00" width="1" height="1.30" fill="#f7747a"/>
<rect x="537" y="700.40" width="1" height="4.10" fill="#fccbcd"/>
<rect x="539" y="682.30" width="1" height="16.70" fill="#3cb9a3"/>
<rect x="539" y="699.00" width="1" height="1.30" fill="#f7747a"/>
<rect x="541" y="677.30" width="1" height="21.70" fill="#3cb9a3"/>
<rect x="541" y="699.00" width="1" height="1.30" fill="#f7747a"/>
<rect x="543" y="684.30" width="1" height="14.70" fill="#3cb9a3"/>
<rect x="543" y="699.00" width="1" height="1.30" fill="#f7747a"/>
<rect x="543" y="700.40" width="1" height="5.10" fill="#fccbcd"/>
<rect x="545" y="683.50" width="1" height="15.50" fill="#3cb9a3"/>
<rect x="545" y="699.00" width="1" height="1.30" fill="#f7747a"/>
<rect x="545" y="700.40" width="1" height="4.10" fill="#fccbcd"/>
<rect x="547" y="691.40" width="1" height="7.60" fill="#a8e4da"/>
<rect x="547" y="699.00" width="1" height="5.00" fill="#f7747a"/>
<rect x="549" y="696.00" width="1" height="3.00" fill="#a8e4da"/>
<rect x="549" y="699.00" width="1" height="7.50" fill="#f7747a"/>
<rect x="551" y="672.70" width="1" height="26.30" fill="#3cb9a3"/>
<rect x="551" y="699.00" width="1" height="1.30" fill="#f7747a"/>
<rect x="553" y="681.50" width="1" height="17.50" fill="#3cb9a3"/>
<rect x="553" y="699.00" width="1" height="1.30" fill="#f7747a"/>
<rect x="555" y="698.20" width="1" height="0.80" fill="#a8e4da"/>
<rect x="555" y="699.00" width="1" height="7.00" fill="#f7747a"/>
<rect x="557" y="699.00" width="1" height="4.50" fill="#f7747a"/>
<rect x="559" y="682.30" width="1" height="16.70" fill="#3cb9a3"/>
<rect x="559" y="699.00" width="1" height="1.30" fill="#f7747a"/>
<rect x="559" y="700.40" width="1" height="2.10" fill="#fccbcd"/>
<rect x="561" y="692.50" width="1" height="6.50" fill="#3cb9a3"/>
<rect x="561" y="699.00" width="1" height="1.30" fill="#f7747a"/>
<rect x="563" y="699.00" width="1" height="7.00" fill="#f7747a"/>
<rect x="565" y="696.00" width="1" height="3.00" fill="#a8e4da"/>
<rect x="565" y="699.00" width="1" height="6.50" fill="#f7747a"/>
<rect x="567" y="685.30" width="1" height="13.70" fill="#3cb9a3"/>
<rect x="567" y="699.00" width="1" height="1.30" fill="#f7747a"/>
<rect x="569" y="670.40" width="1" height="28.60" fill="#3cb9a3"/>
<rect x="569" y="699.00" width="1" height="1.30" fill="#f7747a"/>
<rect x="571" y="695.00" width="1" height="4.00" fill="#a8e4da"/>
<rect x="571" y="699.00" width="1" height="8.00" fill="#f7747a"/>
<rect x="574" y="677.30" width="1" height="21.70" fill="#3cb9a3"/>
<rect x="574" y="699.00" width="1" height="1.30" fill="#f7747a"/>
<rect x="576" y="695.00" width="1" height="4.00" fill="#3cb9a3"/>
<rect x="576" y="699.00" width="1" height="1.30" fill="#f7747a"/>
<rect x="578" y="692.50" width="1" height="6.50" fill="#3cb9a3"/>
<rect x="578" y="699.00" width="1" height="1.30" fill="#f7747a"/>
<rect x="578" y="700.40" width="1" height="3.10" fill="#fccbcd"/>
<rect x="580" y="679.80" width="1" height="19.20" fill="#3cb9a3"/>
<rect x="580" y="699.00" width="1" height="1.30" fill="#f7747a"/>
<rect x="580" y="700.40" width="1" height="3.10" fill="#fccbcd"/>
<rect x="582" y="696.00" width="1" height="3.00" fill="#a8e4da"/>
<rect x="582" y="699.00" width="1" height="6.00" fill="#f7747a"/>
<rect x="584" y="691.40" width="1" height="7.60" fill="#3cb9a3"/>
<rect x="584" y="699.00" width="1" height="1.30" fill="#f7747a"/>
<rect x="586" y="694.00" width="1" height="5.00" fill="#3cb9a3"/>
<rect x="586" y="699.00" width="1" height="1.30" fill="#f7747a"/>
<rect x="588" y="689.20" width="1" height="9.80" fill="#3cb9a3"/>
<rect x="588" y="699.00" width="1" height="1.30" fill="#f7747a"/>
<rect x="588" y="700.40" width="1" height="2.10" fill="#fccbcd"/>
<rect x="590" y="696.00" width="1" height="3.00" fill="#a8e4da"/>
<rect x="590" y="699.00" width="1" height="4.50" fill="#f7747a"/>
<rect x="592" y="697.00" width="1" height="2.00" fill="#a8e4da"/>
<rect x="592" y="699.00" width="1" height="8.50" fill="#f7747a"/>
<rect x="594" y="687.40" width="1" height="11.60" fill="#a8e4da"/>
<rect x="594" y="699.00" width="1" height="6.50" fill="#f7747a"/>
<rect x="596" y="688.40" width="1" height="10.60" fill="#3cb9a3"/>
<rect x="596" y="699.00" width="1" height="1.30" fill="#f7747a"/>
<rect x="598" y="681.80" width="1" height="17.20" fill="#3cb9a3"/>
<rect x="598" y="699.00" width="1" height="1.30" fill="#f7747a"/>
<rect x="598" y="700.40" width="1" height="5.10" fill="#fccbcd"/>
<rect x="600" y="689.70" width="1" height="9.30" fill="#3cb9a3"/>
<rect x="600" y="699.00" width="1" height="1.30" fill="#f7747a"/>
<rect x="602" y="696.00" width="1" height="3.00" fill="#3cb9a3"/>
<rect x="602" y="699.00" width="1" height="1.30" fill="#f7747a"/>
<rect x="604" y="681.50" width="1" height="17.50" fill="#3cb9a3"/>
<rect x="604" y="699.00" width="1" height="1.30" fill="#f7747a"/>
<rect x="606" y="689.70" width="1" height="9.30" fill="#3cb9a3"/>
<rect x="606" y="699.00" width="1" height="1.30" fill="#f7747a"/>
<rect x="606" y="700.40" width="1" height="1.10" fill="#fccbcd"/>
<rect x="608" y="678.30" width="1" height="20.70" fill="#3cb9a3"/>
<rect x="608" y="699.00" width="1" height="1.30" fill="#f7747a"/>
<rect x="610" y="697.00" width="1" height="2.00" fill="#a8e4da"/>
<rect x="610" y="699.00" width="1" height="8.50" fill="#f7747a"/>
<rect x="612" y="689.70" width="1" height="9.30" fill="#3cb9a3"/>
<rect x="612" y="699.00" width="1" height="1.30" fill="#f7747a"/>
<rect x="614" y="697.00" width="1" height="2.00" fill="#a8e4da"/>
<rect x="614" y="699.00" width="1" height="4.50" fill="#f7747a"/>
<rect x="616" y="690.40" width="1" height="8.60" fill="#3cb9a3"/>
<rect x="616" y="699.00" width="1" height="1.30" fill="#f7747a"/>
<rect x="616" y="700.40" width="1" height="3.10" fill="#fccbcd"/>
<rect x="618" y="693.00" width="1" height="6.00" fill="#3cb9a3"/>
<rect x="618" y="699.00" width="1" height="1.30" fill="#f7747a"/>
<rect x="620" y="689.70" width="1" height="9.30" fill="#3cb9a3"/>
<rect x="620" y="699.00" width="1" height="1.30" fill="#f7747a"/>
<rect x="620" y="700.40" width="1" height="3.10" fill="#fccbcd"/>
<rect x="622" y="696.00" width="1" height="3.00" fill="#a8e4da"/>
<rect x="622" y="699.00" width="1" height="7.00" fill="#f7747a"/>
<rect x="624" y="699.00" width="1" height="6.50" fill="#f7747a"/>
<rect x="626" y="689.20" width="1" height="9.80" fill="#a8e4da"/>
<rect x="626" y="699.00" width="1" height="6.50" fill="#f7747a"/>
<rect x="628" y="695.00" width="1" height="4.00" fill="#a8e4da"/>
<rect x="628" y="699.00" width="1" height="6.00" fill="#f7747a"/>
<rect x="630" y="684.30" width="1" height="14.70" fill="#3cb9a3"/>
<rect x="630" y="699.00" width="1" height="1.30" fill="#f7747a"/>
<rect x="632" y="658.30" width="1" height="40.70" fill="#3cb9a3"/>
<rect x="632" y="699.00" width="1" height="1.30" fill="#f7747a"/>
<rect x="632" y="700.40" width="1" height="5.10" fill="#fccbcd"/>
<rect x="634" y="696.00" width="1" height="3.00" fill="#a8e4da"/>
<rect x="634" y="699.00" width="1" height="6.00" fill="#f7747a"/>
<rect x="636" y="692.00" width="1" height="7.00" fill="#3cb9a3"/>
<rect x="636" y="699.00" width="1" height="1.30" fill="#f7747a"/>
<rect x="636" y="700.40" width="1" height="3.10" fill="#fccbcd"/>
<rect x="638" y="696.00" width="1" height="3.00" fill="#a8e4da"/>
<rect x="638" y="699.00" width="1" height="8.00" fill="#f7747a"/>
<rect x="640" y="688.40" width="1" height="10.60" fill="#3cb9a3"/>
<rect x="640" y="699.00" width="1" height="1.30" fill="#f7747a"/>
<rect x="640" y="700.40" width="1" height="4.10" fill="#fccbcd"/>
<rect x="642" y="698.20" width="1" height="0.80" fill="#a8e4da"/>
<rect x="642" y="699.00" width="1" height="5.50" fill="#f7747a"/>
<rect x="644" y="689.20" width="1" height="9.80" fill="#a8e4da"/>
<rect x="644" y="699.00" width="1" height="6.50" fill="#f7747a"/>
<rect x="646" y="689.70" width="1" height="9.30" fill="#3cb9a3"/>
<rect x="646" y="699.00" width="1" height="1.30" fill="#f7747a"/>
<rect x="646" y="700.40" width="1" height="3.10" fill="#fccbcd"/>
<rect x="648" y="698.20" width="1" height="0.80" fill="#a8e4da"/>
<rect x="648" y="699.00" width="1" height="8.50" fill="#f7747a"/>
<rect x="650" y="690.40" width="1" height="8.60" fill="#3cb9a3"/>
<rect x="650" y="699.00" width="1" height="1.30" fill="#f7747a"/>
<rect x="650" y="700.40" width="1" height="3.10" fill="#fccbcd"/>
<rect x="652" y="697.50" width="1" height="1.50" fill="#a8e4da"/>
<rect x="652" y="699.00" width="1" height="8.50" fill="#f7747a"/>
<rect x="654" y="694.00" width="1" height="5.00" fill="#3cb9a3"/>
<rect x="654" y="699.00" width="1" height="1.30" fill="#f7747a"/>
<rect x="654" y="700.40" width="1" height="4.10" fill="#fccbcd"/>
<rect x="656" y="696.00" width="1" height="3.00" fill="#3cb9a3"/>
<rect x="656" y="699.00" width="1" height="1.30" fill="#f7747a"/>
<rect x="656" y="700.40" width="1" height="3.10" fill="#fccbcd"/>
<rect x="658" y="677.80" width="1" height="21.20" fill="#3cb9a3"/>
<rect x="658" y="699.00" width="1" height="1.30" fill="#f7747a"/>
<rect x="658" y="700.40" width="1" height="3.10" fill="#fccbcd"/>
<rect x="660" y="694.00" width="1" height="5.00" fill="#3cb9a3"/>
<rect x="660" y="699.00" width="1" height="1.30" fill="#f7747a"/>
<rect x="660" y="700.40" width="1" height="4.10" fill="#fccbcd"/>
<rect x="662" y="691.00" width="1" height="8.00" fill="#3cb9a3"/>
<rect x="662" y="699.00" width="1" height="1.30" fill="#f7747a"/>
<rect x="662" y="700.40" width="1" height="2.10" fill="#fccbcd"/>
<rect x="664" y="695.00" width="1" height="4.00" fill="#3cb9a3"/>
<rect x="664" y="699.00" width="1" height="1.30" fill="#f7747a"/>
<rect x="664" y="700.40" width="1" height="1.10" fill="#fccbcd"/>
<rect x="666" y="695.00" width="1" height="4.00" fill="#a8e4da"/>
<rect x="666" y="699.00" width="1" height="6.12" fill="#f7747a"/>
<rect x="668" y="688.20" width="1" height="10.80" fill="#a8e4da"/>
<rect x="668" y="699.00" width="1" height="6.12" fill="#f7747a"/>
<rect x="670" y="669.00" width="1" height="30.00" fill="#3cb9a3"/>
<rect x="670" y="699.00" width="1" height="1.30" fill="#f7747a"/>
<rect x="670" y="700.40" width="1" height="14.64" fill="#fccbcd"/>
<rect x="672" y="699.00" width="1" height="6.12" fill="#f7747a"/>
<rect x="674" y="675.70" width="1" height="23.30" fill="#3cb9a3"/>
<rect x="674" y="699.00" width="1" height="1.30" fill="#f7747a"/>
<rect x="674" y="700.40" width="1" height="3.10" fill="#fccbcd"/>
<rect x="676" y="699.00" width="1" height="6.12" fill="#f7747a"/>
<rect x="678" y="689.20" width="1" height="9.80" fill="#3cb9a3"/>
<rect x="678" y="699.00" width="1" height="1.30" fill="#f7747a"/>
<rect x="678" y="700.40" width="1" height="4.10" fill="#fccbcd"/>
<rect x="680" y="696.00" width="1" height="3.00" fill="#a8e4da"/>
<rect x="680" y="699.00" width="1" height="4.96" fill="#f7747a"/>
<rect x="682" y="697.00" width="1" height="2.00" fill="#3cb9a3"/>
<rect x="682" y="699.00" width="1" height="1.30" fill="#f7747a"/>
<rect x="682" y="700.40" width="1" height="3.10" fill="#fccbcd"/>
<rect x="684" y="699.00" width="1" height="4.96" fill="#f7747a"/>
<rect x="686" y="695.00" width="1" height="4.00" fill="#a8e4da"/>
<rect x="686" y="699.00" width="1" height="6.12" fill="#f7747a"/>
<rect x="688" y="693.40" width="1" height="5.60" fill="#3cb9a3"/>
<rect x="688" y="699.00" width="1" height="1.30" fill="#f7747a"/>
<rect x="688" y="700.40" width="1" height="1.10" fill="#fccbcd"/>
<rect x="690" y="692.00" width="1" height="7.00" fill="#3cb9a3"/>
<rect x="690" y="699.00" width="1" height="1.30" fill="#f7747a"/>
<rect x="690" y="700.40" width="1" height="4.10" fill="#fccbcd"/>
<rect x="692" y="699.00" width="1" height="6.12" fill="#f7747a"/>
<rect x="694" y="696.00" width="1" height="3.00" fill="#a8e4da"/>
<rect x="694" y="699.00" width="1" height="6.12" fill="#f7747a"/>
<rect x="696" y="696.00" width="1" height="3.00" fill="#3cb9a3"/>
<rect x="696" y="699.00" width="1" height="1.30" fill="#f7747a"/>
<rect x="698" y="699.00" width="1" height="4.96" fill="#f7747a"/>
<rect x="700" y="670.00" width="1" height="29.00" fill="#3cb9a3"/>
<rect x="700" y="699.00" width="1" height="1.30" fill="#f7747a"/>
<rect x="700" y="700.40" width="1" height="12.66" fill="#fccbcd"/>
<rect x="702" y="690.20" width="1" height="8.80" fill="#3cb9a3"/>
<rect x="702" y="699.00" width="1" height="1.30" fill="#f7747a"/>
<rect x="702" y="700.40" width="1" height="3.10" fill="#fccbcd"/>
<rect x="704" y="696.00" width="1" height="3.00" fill="#a8e4da"/>
<rect x="704" y="699.00" width="1" height="4.96" fill="#f7747a"/>
<rect x="706" y="689.70" width="1" height="9.30" fill="#3cb9a3"/>
<rect x="706" y="699.00" width="1" height="1.30" fill="#f7747a"/>
<rect x="706" y="700.40" width="1" height="1.10" fill="#fccbcd"/>
<rect x="708" y="690.20" width="1" height="8.80" fill="#3cb9a3"/>
<rect x="708" y="699.00" width="1" height="1.30" fill="#f7747a"/>
<rect x="708" y="700.40" width="1" height="1.10" fill="#fccbcd"/>
<rect x="710" y="694.00" width="1" height="5.00" fill="#3cb9a3"/>
<rect x="710" y="699.00" width="1" height="1.30" fill="#f7747a"/>
<rect x="712" y="696.00" width="1" height="3.00" fill="#a8e4da"/>
<rect x="712" y="699.00" width="1" height="4.96" fill="#f7747a"/>
<rect x="714" y="685.30" width="1" height="13.70" fill="#3cb9a3"/>
<rect x="714" y="699.00" width="1" height="1.30" fill="#f7747a"/>
<rect x="714" y="700.40" width="1" height="2.10" fill="#fccbcd"/>
<rect x="716" y="687.40" width="1" height="11.60" fill="#3cb9a3"/>
<rect x="716" y="699.00" width="1" height="4.13" fill="#f7747a"/>
<rect x="718" y="698.20" width="1" height="0.80" fill="#a8e4da"/>
<rect x="718" y="699.00" width="1" height="4.13" fill="#f7747a"/>
<rect x="720" y="690.20" width="1" height="8.80" fill="#3cb9a3"/>
<rect x="720" y="699.00" width="1" height="1.30" fill="#f7747a"/>
<rect x="722" y="693.00" width="1" height="6.00" fill="#3cb9a3"/>
<rect x="722" y="699.00" width="1" height="1.30" fill="#f7747a"/>
<rect x="722" y="700.40" width="1" height="2.10" fill="#fccbcd"/>
<rect x="724" y="688.40" width="1" height="10.60" fill="#3cb9a3"/>
<rect x="724" y="699.00" width="1" height="1.30" fill="#f7747a"/>
<rect x="724" y="700.40" width="1" height="3.10" fill="#fccbcd"/>
<rect x="726" y="689.20" width="1" height="9.80" fill="#3cb9a3"/>
<rect x="726" y="699.00" width="1" height="1.30" fill="#f7747a"/>
<rect x="728" y="699.00" width="1" height="4.13" fill="#f7747a"/>
<rect x="730" y="695.00" width="1" height="4.00" fill="#3cb9a3"/>
<rect x="730" y="699.00" width="1" height="1.30" fill="#f7747a"/>
<rect x="730" y="700.40" width="1" height="1.10" fill="#fccbcd"/>
<rect x="732" y="699.00" width="1" height="4.13" fill="#f7747a"/>
<rect x="734" y="679.30" width="1" height="19.70" fill="#3cb9a3"/>
<rect x="734" y="699.00" width="1" height="1.30" fill="#f7747a"/>
<rect x="736" y="679.80" width="1" height="19.20" fill="#3cb9a3"/>
<rect x="736" y="699.00" width="1" height="1.30" fill="#f7747a"/>
<rect x="738" y="697.00" width="1" height="2.00" fill="#3cb9a3"/>
<rect x="738" y="699.00" width="1" height="1.30" fill="#f7747a"/>
<rect x="740" y="685.30" width="1" height="13.70" fill="#3cb9a3"/>
<rect x="740" y="699.00" width="1" height="1.30" fill="#f7747a"/>
<rect x="742" y="695.00" width="1" height="4.00" fill="#3cb9a3"/>
<rect x="742" y="699.00" width="1" height="1.30" fill="#f7747a"/>
<rect x="744" y="687.40" width="1" height="11.60" fill="#3cb9a3"/>
<rect x="744" y="699.00" width="1" height="1.30" fill="#f7747a"/>
<rect x="746" y="694.00" width="1" height="5.00" fill="#3cb9a3"/>
<rect x="746" y="699.00" width="1" height="1.30" fill="#f7747a"/>
<rect x="748" y="694.00" width="1" height="5.00" fill="#3cb9a3"/>
<rect x="748" y="699.00" width="1" height="1.30" fill="#f7747a"/>
<rect x="750" y="696.00" width="1" height="3.00" fill="#a8e4da"/>
<rect x="750" y="699.00" width="1" height="4.96" fill="#f7747a"/>
<rect x="752" y="688.70" width="1" height="10.30" fill="#3cb9a3"/>
<rect x="752" y="699.00" width="1" height="1.30" fill="#f7747a"/>
<rect x="754" y="696.00" width="1" height="3.00" fill="#a8e4da"/>
<rect x="754" y="699.00" width="1" height="7.11" fill="#f7747a"/>
<rect x="756" y="696.00" width="1" height="3.00" fill="#3cb9a3"/>
<rect x="756" y="699.00" width="1" height="1.30" fill="#f7747a"/>
<rect x="756" y="700.40" width="1" height="3.10" fill="#fccbcd"/>
<rect x="758" y="697.50" width="1" height="1.50" fill="#a8e4da"/>
<rect x="758" y="699.00" width="1" height="4.13" fill="#f7747a"/>
<rect x="760" y="695.00" width="1" height="4.00" fill="#3cb9a3"/>
<rect x="760" y="699.00" width="1" height="1.30" fill="#f7747a"/>
<rect x="760" y="700.40" width="1" height="3.10" fill="#fccbcd"/>
<rect x="762" y="696.00" width="1" height="3.00" fill="#a8e4da"/>
<rect x="762" y="699.00" width="1" height="4.96" fill="#f7747a"/>
<rect x="764" y="699.00" width="1" height="4.96" fill="#f7747a"/>
<rect x="766" y="680.30" width="1" height="18.70" fill="#3cb9a3"/>
<rect x="766" y="699.00" width="1" height="1.30" fill="#f7747a"/>
<rect x="766" y="700.40" width="1" height="1.10" fill="#fccbcd"/>
<rect x="768" y="693.00" width="1" height="6.00" fill="#3cb9a3"/>
<rect x="768" y="699.00" width="1" height="1.30" fill="#f7747a"/>
<rect x="768" y="700.40" width="1" height="3.10" fill="#fccbcd"/>
<rect x="770" y="695.00" width="1" height="4.00" fill="#3cb9a3"/>
<rect x="770" y="699.00" width="1" height="1.30" fill="#f7747a"/>
<rect x="770" y="700.40" width="1" height="3.10" fill="#fccbcd"/>
<rect x="772" y="698.20" width="1" height="0.80" fill="#a8e4da"/>
<rect x="772" y="699.00" width="1" height="11.08" fill="#f7747a"/>
<rect x="774" y="663.40" width="1" height="35.60" fill="#3cb9a3"/>
<rect x="774" y="699.00" width="1" height="1.30" fill="#f7747a"/>
<rect x="774" y="700.40" width="1" height="5.71" fill="#fccbcd"/>
<rect x="776" y="695.00" width="1" height="4.00" fill="#a8e4da"/>
<rect x="776" y="699.00" width="1" height="6.12" fill="#f7747a"/>
<rect x="778" y="695.00" width="1" height="4.00" fill="#3cb9a3"/>
<rect x="778" y="699.00" width="1" height="1.30" fill="#f7747a"/>
<rect x="778" y="700.40" width="1" height="3.10" fill="#fccbcd"/>
<rect x="780" y="695.00" width="1" height="4.00" fill="#3cb9a3"/>
<rect x="780" y="699.00" width="1" height="1.30" fill="#f7747a"/>
<rect x="780" y="700.40" width="1" height="3.10" fill="#fccbcd"/>
<rect x="782" y="698.20" width="1" height="0.80" fill="#a8e4da"/>
<rect x="782" y="699.00" width="1" height="4.96" fill="#f7747a"/>
<rect x="784" y="695.00" width="1" height="4.00" fill="#3cb9a3"/>
<rect x="784" y="699.00" width="1" height="1.30" fill="#f7747a"/>
<rect x="784" y="700.40" width="1" height="5.10" fill="#fccbcd"/>
<rect x="786" y="694.00" width="1" height="5.00" fill="#3cb9a3"/>
<rect x="786" y="699.00" width="1" height="1.30" fill="#f7747a"/>
<rect x="788" y="694.00" width="1" height="5.00" fill="#3cb9a3"/>
<rect x="788" y="699.00" width="1" height="1.30" fill="#f7747a"/>
<rect x="788" y="700.40" width="1" height="4.10" fill="#fccbcd"/>
<rect x="790" y="680.60" width="1" height="18.40" fill="#3cb9a3"/>
<rect x="790" y="699.00" width="1" height="1.30" fill="#f7747a"/>
<rect x="790" y="700.40" width="1" height="2.73" fill="#fccbcd"/>
<rect x="792" y="689.70" width="1" height="9.30" fill="#3cb9a3"/>
<rect x="792" y="699.00" width="1" height="1.30" fill="#f7747a"/>
<rect x="794" y="692.40" width="1" height="6.60" fill="#3cb9a3"/>
<rect x="794" y="699.00" width="1" height="4.96" fill="#f7747a"/>
<rect x="797" y="698.20" width="1" height="0.80" fill="#a8e4da"/>
<rect x="797" y="699.00" width="1" height="6.12" fill="#f7747a"/>
<rect x="799" y="688.40" width="1" height="10.60" fill="#3cb9a3"/>
<rect x="799" y="699.00" width="1" height="1.30" fill="#f7747a"/>
<rect x="801" y="698.20" width="1" height="0.80" fill="#a8e4da"/>
<rect x="801" y="699.00" width="1" height="6.12" fill="#f7747a"/>
<rect x="803" y="686.40" width="1" height="12.60" fill="#3cb9a3"/>
<rect x="803" y="699.00" width="1" height="1.30" fill="#f7747a"/>
<rect x="803" y="700.40" width="1" height="4.72" fill="#fccbcd"/>
<rect x="805" y="696.00" width="1" height="3.00" fill="#3cb9a3"/>
<rect x="805" y="699.00" width="1" height="1.30" fill="#f7747a"/>
<rect x="807" y="688.40" width="1" height="10.60" fill="#3cb9a3"/>
<rect x="807" y="699.00" width="1" height="1.30" fill="#f7747a"/>
<rect x="809" y="680.30" width="1" height="18.70" fill="#3cb9a3"/>
<rect x="809" y="699.00" width="1" height="1.30" fill="#f7747a"/>
<rect x="811" y="699.00" width="1" height="3.31" fill="#f7747a"/>
<rect x="813" y="688.70" width="1" height="10.30" fill="#3cb9a3"/>
<rect x="813" y="699.00" width="1" height="1.30" fill="#f7747a"/>
<rect x="815" y="693.00" width="1" height="6.00" fill="#3cb9a3"/>
<rect x="815" y="699.00" width="1" height="1.30" fill="#f7747a"/>
<rect x="815" y="700.40" width="1" height="2.73" fill="#fccbcd"/>
<rect x="817" y="696.00" width="1" height="3.00" fill="#3cb9a3"/>
<rect x="817" y="699.00" width="1" height="1.30" fill="#f7747a"/>
<rect x="817" y="700.40" width="1" height="1.10" fill="#fccbcd"/>
<rect x="819" y="691.40" width="1" height="7.60" fill="#3cb9a3"/>
<rect x="819" y="699.00" width="1" height="1.30" fill="#f7747a"/>
<rect x="819" y="700.40" width="1" height="1.10" fill="#fccbcd"/>
<rect x="821" y="692.00" width="1" height="7.00" fill="#3cb9a3"/>
<rect x="821" y="699.00" width="1" height="1.30" fill="#f7747a"/>
<rect x="823" y="695.00" width="1" height="4.00" fill="#3cb9a3"/>
<rect x="823" y="699.00" width="1" height="1.30" fill="#f7747a"/>
<rect x="823" y="700.40" width="1" height="1.10" fill="#fccbcd"/>
<rect x="825" y="687.40" width="1" height="11.60" fill="#3cb9a3"/>
<rect x="825" y="699.00" width="1" height="1.30" fill="#f7747a"/>
<rect x="825" y="700.40" width="1" height="5.10" fill="#fccbcd"/>
<rect x="827" y="699.00" width="1" height="7.11" fill="#f7747a"/>
<rect x="829" y="696.00" width="1" height="3.00" fill="#3cb9a3"/>
<rect x="829" y="699.00" width="1" height="1.30" fill="#f7747a"/>
<rect x="831" y="694.00" width="1" height="5.00" fill="#3cb9a3"/>
<rect x="831" y="699.00" width="1" height="1.30" fill="#f7747a"/>
<rect x="833" y="696.00" width="1" height="3.00" fill="#3cb9a3"/>
<rect x="833" y="699.00" width="1" height="1.30" fill="#f7747a"/>
<rect x="833" y="700.40" width="1" height="3.10" fill="#fccbcd"/>
<rect x="835" y="697.00" width="1" height="2.00" fill="#a8e4da"/>
<rect x="835" y="699.00" width="1" height="4.13" fill="#f7747a"/>
<rect x="837" y="692.00" width="1" height="7.00" fill="#3cb9a3"/>
<rect x="837" y="699.00" width="1" height="1.30" fill="#f7747a"/>
<rect x="837" y="700.40" width="1" height="5.10" fill="#fccbcd"/>
<rect x="839" y="695.00" width="1" height="4.00" fill="#3cb9a3"/>
<rect x="839" y="699.00" width="1" height="1.30" fill="#f7747a"/>
<rect x="841" y="679.80" width="1" height="19.20" fill="#3cb9a3"/>
<rect x="841" y="699.00" width="1" height="1.30" fill="#f7747a"/>
<rect x="841" y="700.40" width="1" height="2.73" fill="#fccbcd"/>
<rect x="843" y="689.20" width="1" height="9.80" fill="#3cb9a3"/>
<rect x="843" y="699.00" width="1" height="1.30" fill="#f7747a"/>
<rect x="843" y="700.40" width="1" height="2.10" fill="#fccbcd"/>
<rect x="845" y="696.00" width="1" height="3.00" fill="#3cb9a3"/>
<rect x="845" y="699.00" width="1" height="1.30" fill="#f7747a"/>
<rect x="847" y="699.00" width="1" height="6.12" fill="#f7747a"/>
<rect x="849" y="685.30" width="1" height="13.70" fill="#3cb9a3"/>
<rect x="849" y="699.00" width="1" height="1.30" fill="#f7747a"/>
<rect x="849" y="700.40" width="1" height="3.10" fill="#fccbcd"/>
<rect x="851" y="695.00" width="1" height="4.00" fill="#a8e4da"/>
<rect x="851" y="699.00" width="1" height="6.12" fill="#f7747a"/>
<rect x="853" y="688.40" width="1" height="10.60" fill="#3cb9a3"/>
<rect x="853" y="699.00" width="1" height="1.30" fill="#f7747a"/>
<rect x="853" y="700.40" width="1" height="4.10" fill="#fccbcd"/>
<rect x="855" y="693.00" width="1" height="6.00" fill="#3cb9a3"/>
<rect x="855" y="699.00" width="1" height="1.30" fill="#f7747a"/>
<rect x="857" y="688.70" width="1" height="10.30" fill="#3cb9a3"/>
<rect x="857" y="699.00" width="1" height="1.30" fill="#f7747a"/>
<rect x="859" y="695.00" width="1" height="4.00" fill="#3cb9a3"/>
<rect x="859" y="699.00" width="1" height="1.30" fill="#f7747a"/>
<rect x="861" y="682.30" width="1" height="16.70" fill="#3cb9a3"/>
<rect x="861" y="699.00" width="1" height="1.30" fill="#f7747a"/>
<rect x="861" y="700.40" width="1" height="4.72" fill="#fccbcd"/>
<rect x="863" y="695.00" width="1" height="4.00" fill="#3cb9a3"/>
<rect x="863" y="699.00" width="1" height="1.30" fill="#f7747a"/>
<rect x="865" y="677.30" width="1" height="21.70" fill="#3cb9a3"/>
<rect x="865" y="699.00" width="1" height="1.30" fill="#f7747a"/>
<rect x="867" y="689.20" width="1" height="9.80" fill="#3cb9a3"/>
<rect x="867" y="699.00" width="1" height="1.30" fill="#f7747a"/>
<rect x="869" y="699.00" width="1" height="4.96" fill="#f7747a"/>
<rect x="871" y="699.00" width="1" height="4.96" fill="#f7747a"/>
<rect x="873" y="698.20" width="1" height="0.80" fill="#a8e4da"/>
<rect x="873" y="699.00" width="1" height="4.96" fill="#f7747a"/>
<rect x="875" y="690.20" width="1" height="8.80" fill="#3cb9a3"/>
<rect x="875" y="699.00" width="1" height="7.11" fill="#f7747a"/>
<rect x="877" y="688.40" width="1" height="10.60" fill="#3cb9a3"/>
<rect x="877" y="699.00" width="1" height="1.30" fill="#f7747a"/>
<rect x="877" y="700.40" width="1" height="5.10" fill="#fccbcd"/>
<rect x="879" y="679.80" width="1" height="19.20" fill="#3cb9a3"/>
<rect x="879" y="699.00" width="1" height="1.30" fill="#f7747a"/>
<rect x="879" y="700.40" width="1" height="2.10" fill="#fccbcd"/>
<rect x="881" y="699.00" width="1" height="6.12" fill="#f7747a"/>
<rect x="883" y="692.70" width="1" height="6.30" fill="#3cb9a3"/>
<rect x="883" y="699.00" width="1" height="1.30" fill="#f7747a"/>
<rect x="885" y="694.00" width="1" height="5.00" fill="#3cb9a3"/>
<rect x="885" y="699.00" width="1" height="1.30" fill="#f7747a"/>
<rect x="885" y="700.40" width="1" height="1.10" fill="#fccbcd"/>
<rect x="887" y="696.00" width="1" height="3.00" fill="#a8e4da"/>
<rect x="887" y="699.00" width="1" height="6.12" fill="#f7747a"/>
<rect x="889" y="696.00" width="1" height="3.00" fill="#a8e4da"/>
<rect x="889" y="699.00" width="1" height="6.12" fill="#f7747a"/>
<rect x="891" y="695.00" width="1" height="4.00" fill="#a8e4da"/>
<rect x="891" y="699.00" width="1" height="7.11" fill="#f7747a"/>
<rect x="893" y="672.70" width="1" height="26.30" fill="#3cb9a3"/>
<rect x="893" y="699.00" width="1" height="1.30" fill="#f7747a"/>
<rect x="893" y="700.40" width="1" height="3.56" fill="#fccbcd"/>
<rect x="895" y="690.07" width="1" height="8.93" fill="#3cb9a3"/>
<rect x="895" y="699.00" width="1" height="1.30" fill="#f7747a"/>
<rect x="897" y="684.11" width="1" height="14.89" fill="#a8e4da"/>
<rect x="897" y="699.00" width="1" height="4.13" fill="#f7747a"/>
<rect x="899" y="693.21" width="1" height="5.79" fill="#3cb9a3"/>
<rect x="899" y="699.00" width="1" height="1.30" fill="#f7747a"/>
<rect x="899" y="700.40" width="1" height="1.10" fill="#fccbcd"/>
<rect x="901" y="686.26" width="1" height="12.74" fill="#3cb9a3"/>
<rect x="901" y="699.00" width="1" height="1.30" fill="#f7747a"/>
<rect x="903" y="683.62" width="1" height="15.38" fill="#3cb9a3"/>
<rect x="903" y="699.00" width="1" height="1.30" fill="#f7747a"/>
<rect x="903" y="700.40" width="1" height="4.10" fill="#fccbcd"/>
<rect x="905" y="697.00" width="1" height="2.00" fill="#3cb9a3"/>
<rect x="905" y="699.00" width="1" height="1.30" fill="#f7747a"/>
<rect x="907" y="692.22" width="1" height="6.78" fill="#3cb9a3"/>
<rect x="907" y="699.00" width="1" height="1.30" fill="#f7747a"/>
<rect x="909" y="694.00" width="1" height="5.00" fill="#3cb9a3"/>
<rect x="909" y="699.00" width="1" height="1.30" fill="#f7747a"/>
<rect x="911" y="693.21" width="1" height="5.79" fill="#a8e4da"/>
<rect x="911" y="699.00" width="1" height="6.50" fill="#f7747a"/>
<rect x="913" y="699.00" width="1" height="6.00" fill="#f7747a"/>
<rect x="915" y="697.00" width="1" height="2.00" fill="#a8e4da"/>
<rect x="915" y="699.00" width="1" height="4.50" fill="#f7747a"/>
<rect x="917" y="693.21" width="1" height="5.79" fill="#3cb9a3"/>
<rect x="917" y="699.00" width="1" height="1.30" fill="#f7747a"/>
<rect x="919" y="698.20" width="1" height="0.80" fill="#a8e4da"/>
<rect x="919" y="699.00" width="1" height="7.50" fill="#f7747a"/>
<rect x="921" y="689.57" width="1" height="9.43" fill="#3cb9a3"/>
<rect x="921" y="699.00" width="1" height="1.30" fill="#f7747a"/>
<rect x="921" y="700.40" width="1" height="3.10" fill="#fccbcd"/>
<rect x="923" y="685.11" width="1" height="13.89" fill="#3cb9a3"/>
<rect x="923" y="699.00" width="1" height="1.30" fill="#f7747a"/>
<rect x="923" y="700.40" width="1" height="4.10" fill="#fccbcd"/>
<rect x="925" y="690.07" width="1" height="8.93" fill="#3cb9a3"/>
<rect x="925" y="699.00" width="1" height="1.30" fill="#f7747a"/>
<rect x="927" y="697.50" width="1" height="1.50" fill="#a8e4da"/>
<rect x="927" y="699.00" width="1" height="7.00" fill="#f7747a"/>
<rect x="929" y="696.00" width="1" height="3.00" fill="#a8e4da"/>
<rect x="929" y="699.00" width="1" height="6.00" fill="#f7747a"/>
<rect x="931" y="694.00" width="1" height="5.00" fill="#3cb9a3"/>
<rect x="931" y="699.00" width="1" height="1.30" fill="#f7747a"/>
<rect x="931" y="700.40" width="1" height="3.10" fill="#fccbcd"/>
<rect x="933" y="693.21" width="1" height="5.79" fill="#3cb9a3"/>
<rect x="933" y="699.00" width="1" height="1.30" fill="#f7747a"/>
<rect x="935" y="696.00" width="1" height="3.00" fill="#a8e4da"/>
<rect x="935" y="699.00" width="1" height="6.00" fill="#f7747a"/>
<rect x="937" y="676.01" width="1" height="22.99" fill="#3cb9a3"/>
<rect x="937" y="699.00" width="1" height="1.30" fill="#f7747a"/>
<rect x="939" y="689.08" width="1" height="9.92" fill="#3cb9a3"/>
<rect x="939" y="699.00" width="1" height="1.30" fill="#f7747a"/>
<rect x="941" y="682.13" width="1" height="16.87" fill="#3cb9a3"/>
<rect x="941" y="699.00" width="1" height="1.30" fill="#f7747a"/>
<rect x="943" y="689.08" width="1" height="9.92" fill="#a8e4da"/>
<rect x="943" y="699.00" width="1" height="8.00" fill="#f7747a"/>
<rect x="945" y="693.00" width="1" height="6.00" fill="#3cb9a3"/>
<rect x="945" y="699.00" width="1" height="1.30" fill="#f7747a"/>
<rect x="947" y="694.00" width="1" height="5.00" fill="#3cb9a3"/>
<rect x="947" y="699.00" width="1" height="1.30" fill="#f7747a"/>
<rect x="947" y="700.40" width="1" height="5.10" fill="#fccbcd"/>
<rect x="949" y="680.14" width="1" height="18.86" fill="#3cb9a3"/>
<rect x="949" y="699.00" width="1" height="1.30" fill="#f7747a"/>
<rect x="949" y="700.40" width="1" height="4.10" fill="#fccbcd"/>
<rect x="951" y="682.63" width="1" height="16.37" fill="#3cb9a3"/>
<rect x="951" y="699.00" width="1" height="1.30" fill="#f7747a"/>
<rect x="953" y="679.15" width="1" height="19.85" fill="#3cb9a3"/>
<rect x="953" y="699.00" width="1" height="1.30" fill="#f7747a"/>
<rect x="955" y="686.26" width="1" height="12.74" fill="#3cb9a3"/>
<rect x="955" y="699.00" width="1" height="1.30" fill="#f7747a"/>
<rect x="957" y="697.00" width="1" height="2.00" fill="#a8e4da"/>
<rect x="957" y="699.00" width="1" height="7.00" fill="#f7747a"/>
<rect x="959" y="694.00" width="1" height="5.00" fill="#3cb9a3"/>
<rect x="959" y="699.00" width="1" height="1.30" fill="#f7747a"/>
<rect x="959" y="700.40" width="1" height="4.10" fill="#fccbcd"/>
<rect x="961" y="696.00" width="1" height="3.00" fill="#3cb9a3"/>
<rect x="961" y="699.00" width="1" height="1.30" fill="#f7747a"/>
<rect x="961" y="700.40" width="1" height="1.10" fill="#fccbcd"/>
<rect x="963" y="698.20" width="1" height="0.80" fill="#a8e4da"/>
<rect x="963" y="699.00" width="1" height="8.00" fill="#f7747a"/>
<rect x="965" y="692.55" width="1" height="6.45" fill="#3cb9a3"/>
<rect x="965" y="699.00" width="1" height="1.30" fill="#f7747a"/>
<rect x="967" y="692.22" width="1" height="6.78" fill="#3cb9a3"/>
<rect x="967" y="699.00" width="1" height="1.30" fill="#f7747a"/>
<rect x="967" y="700.40" width="1" height="1.10" fill="#fccbcd"/>
<rect x="969" y="694.20" width="1" height="4.80" fill="#3cb9a3"/>
<rect x="969" y="699.00" width="1" height="1.30" fill="#f7747a"/>
<rect x="969" y="700.40" width="1" height="4.10" fill="#fccbcd"/>
<rect x="971" y="692.00" width="1" height="7.00" fill="#3cb9a3"/>
<rect x="971" y="699.00" width="1" height="1.30" fill="#f7747a"/>
<rect x="973" y="676.34" width="1" height="22.66" fill="#3cb9a3"/>
<rect x="973" y="699.00" width="1" height="1.30" fill="#f7747a"/>
<rect x="975" y="690.73" width="1" height="8.27" fill="#3cb9a3"/>
<rect x="975" y="699.00" width="1" height="1.30" fill="#f7747a"/>
<rect x="977" y="692.88" width="1" height="6.12" fill="#3cb9a3"/>
<rect x="977" y="699.00" width="1" height="1.30" fill="#f7747a"/>
<rect x="977" y="700.40" width="1" height="2.10" fill="#fccbcd"/>
<rect x="979" y="697.00" width="1" height="2.00" fill="#3cb9a3"/>
<rect x="979" y="699.00" width="1" height="1.30" fill="#f7747a"/>
<rect x="981" y="692.22" width="1" height="6.78" fill="#3cb9a3"/>
<rect x="981" y="699.00" width="1" height="1.30" fill="#f7747a"/>
<rect x="981" y="700.40" width="1" height="5.10" fill="#fccbcd"/>
<rect x="983" y="672.21" width="1" height="26.79" fill="#3cb9a3"/>
<rect x="983" y="699.00" width="1" height="1.30" fill="#f7747a"/>
<rect x="983" y="700.40" width="1" height="1.10" fill="#fccbcd"/>
<rect x="985" y="695.00" width="1" height="4.00" fill="#3cb9a3"/>
<rect x="985" y="699.00" width="1" height="1.30" fill="#f7747a"/>
<rect x="987" y="690.23" width="1" height="8.77" fill="#3cb9a3"/>
<rect x="987" y="699.00" width="1" height="1.30" fill="#f7747a"/>
<rect x="989" y="695.00" width="1" height="4.00" fill="#a8e4da"/>
<rect x="989" y="699.00" width="1" height="8.50" fill="#f7747a"/>
<rect x="991" y="692.22" width="1" height="6.78" fill="#3cb9a3"/>
<rect x="991" y="699.00" width="1" height="1.30" fill="#f7747a"/>
<rect x="991" y="700.40" width="1" height="3.10" fill="#fccbcd"/>
<rect x="993" y="691.23" width="1" height="7.77" fill="#a8e4da"/>
<rect x="993" y="699.00" width="1" height="6.50" fill="#f7747a"/>
<rect x="995" y="696.00" width="1" height="3.00" fill="#a8e4da"/>
<rect x="995" y="699.00" width="1" height="5.50" fill="#f7747a"/>
<rect x="997" y="689.57" width="1" height="9.43" fill="#3cb9a3"/>
<rect x="997" y="699.00" width="1" height="1.30" fill="#f7747a"/>
<rect x="997" y="700.40" width="1" height="5.10" fill="#fccbcd"/>
<rect x="999" y="692.00" width="1" height="7.00" fill="#3cb9a3"/>
<rect x="999" y="699.00" width="1" height="1.30" fill="#f7747a"/>
<rect x="999" y="700.40" width="1" height="5.10" fill="#fccbcd"/>
<rect x="1001" y="693.21" width="1" height="5.79" fill="#3cb9a3"/>
<rect x="1001" y="699.00" width="1" height="1.30" fill="#f7747a"/>
<rect x="1003" y="696.00" width="1" height="3.00" fill="#3cb9a3"/>
<rect x="1003" y="699.00" width="1" height="1.30" fill="#f7747a"/>
<rect x="1003" y="700.40" width="1" height="1.10" fill="#fccbcd"/>
<rect x="1005" y="692.55" width="1" height="6.45" fill="#3cb9a3"/>
<rect x="1005" y="699.00" width="1" height="1.30" fill="#f7747a"/>
<rect x="1005" y="700.40" width="1" height="2.10" fill="#fccbcd"/>
<rect x="1007" y="685.11" width="1" height="13.89" fill="#3cb9a3"/>
<rect x="1007" y="699.00" width="1" height="1.30" fill="#f7747a"/>
<rect x="1009" y="699.00" width="1" height="8.50" fill="#f7747a"/>
<rect x="1011" y="680.14" width="1" height="18.86" fill="#3cb9a3"/>
<rect x="1011" y="699.00" width="1" height="1.30" fill="#f7747a"/>
<rect x="1011" y="700.40" width="1" height="1.10" fill="#fccbcd"/>
<rect x="1013" y="693.21" width="1" height="5.79" fill="#a8e4da"/>
<rect x="1013" y="699.00" width="1" height="6.50" fill="#f7747a"/>
<rect x="1015" y="690.73" width="1" height="8.27" fill="#3cb9a3"/>
<rect x="1015" y="699.00" width="1" height="1.30" fill="#f7747a"/>
<rect x="1015" y="700.40" width="1" height="1.10" fill="#fccbcd"/>
<rect x="1017" y="694.00" width="1" height="5.00" fill="#3cb9a3"/>
<rect x="1017" y="699.00" width="1" height="1.30" fill="#f7747a"/>
<rect x="1017" y="700.40" width="1" height="4.10" fill="#fccbcd"/>
<rect x="1020" y="690.73" width="1" height="8.27" fill="#3cb9a3"/>
<rect x="1020" y="699.00" width="1" height="1.30" fill="#f7747a"/>
<rect x="1022" y="691.23" width="1" height="7.77" fill="#a8e4da"/>
<rect x="1022" y="699.00" width="1" height="6.00" fill="#f7747a"/>
<rect x="1024" y="687.26" width="1" height="11.74" fill="#3cb9a3"/>
<rect x="1024" y="699.00" width="1" height="1.30" fill="#f7747a"/>
<rect x="1024" y="700.40" width="1" height="3.10" fill="#fccbcd"/>
<rect x="1026" y="683.29" width="1" height="15.71" fill="#3cb9a3"/>
<rect x="1026" y="699.00" width="1" height="1.30" fill="#f7747a"/>
<rect x="1028" y="695.00" width="1" height="4.00" fill="#a8e4da"/>
<rect x="1028" y="699.00" width="1" height="7.00" fill="#f7747a"/>
<rect x="1030" y="696.19" width="1" height="2.81" fill="#3cb9a3"/>
<rect x="1030" y="699.00" width="1" height="1.30" fill="#f7747a"/>
<rect x="1032" y="699.00" width="1" height="7.00" fill="#f7747a"/>
<rect x="1034" y="689.57" width="1" height="9.43" fill="#3cb9a3"/>
<rect x="1034" y="699.00" width="1" height="1.30" fill="#f7747a"/>
<rect x="1036" y="693.21" width="1" height="5.79" fill="#3cb9a3"/>
<rect x="1036" y="699.00" width="1" height="1.30" fill="#f7747a"/>
<rect x="1038" y="694.20" width="1" height="4.80" fill="#3cb9a3"/>
<rect x="1038" y="699.00" width="1" height="1.30" fill="#f7747a"/>
<rect x="1038" y="700.40" width="1" height="4.10" fill="#fccbcd"/>
<rect x="1040" y="691.56" width="1" height="7.44" fill="#3cb9a3"/>
<rect x="1040" y="699.00" width="1" height="1.30" fill="#f7747a"/>
<rect x="1042" y="693.21" width="1" height="5.79" fill="#a8e4da"/>
<rect x="1042" y="699.00" width="1" height="7.50" fill="#f7747a"/>
<rect x="1044" y="692.22" width="1" height="6.78" fill="#3cb9a3"/>
<rect x="1044" y="699.00" width="1" height="1.30" fill="#f7747a"/>
<rect x="1046" y="694.00" width="1" height="5.00" fill="#3cb9a3"/>
<rect x="1046" y="699.00" width="1" height="1.30" fill="#f7747a"/>
<rect x="1048" y="694.20" width="1" height="4.80" fill="#a8e4da"/>
<rect x="1048" y="699.00" width="1" height="6.00" fill="#f7747a"/>
<rect x="1050" y="688.25" width="1" height="10.75" fill="#a8e4da"/>
<rect x="1050" y="699.00" width="1" height="7.50" fill="#f7747a"/>
<rect x="1052" y="692.00" width="1" height="7.00" fill="#3cb9a3"/>
<rect x="1052" y="699.00" width="1" height="1.30" fill="#f7747a"/>
<rect x="1054" y="689.08" width="1" height="9.92" fill="#3cb9a3"/>
<rect x="1054" y="699.00" width="1" height="1.30" fill="#f7747a"/>
<rect x="1056" y="690.07" width="1" height="8.93" fill="#3cb9a3"/>
<rect x="1056" y="699.00" width="1" height="1.30" fill="#f7747a"/>
<rect x="1058" y="690.07" width="1" height="8.93" fill="#3cb9a3"/>
<rect x="1058" y="699.00" width="1" height="1.30" fill="#f7747a"/>
<rect x="1058" y="700.40" width="1" height="1.10" fill="#fccbcd"/>
<rect x="1060" y="687.92" width="1" height="11.08" fill="#3cb9a3"/>
<rect x="1060" y="699.00" width="1" height="1.30" fill="#f7747a"/>
<rect x="1060" y="700.40" width="1" height="2.10" fill="#fccbcd"/>
<rect x="1062" y="690.07" width="1" height="8.93" fill="#3cb9a3"/>
<rect x="1062" y="699.00" width="1" height="1.30" fill="#f7747a"/>
<rect x="1064" y="694.20" width="1" height="4.80" fill="#3cb9a3"/>
<rect x="1064" y="699.00" width="1" height="1.30" fill="#f7747a"/>
<rect x="1066" y="696.19" width="1" height="2.81" fill="#3cb9a3"/>
<rect x="1066" y="699.00" width="1" height="1.30" fill="#f7747a"/>
<rect x="1068" y="698.20" width="1" height="0.80" fill="#a8e4da"/>
<rect x="1068" y="699.00" width="1" height="8.00" fill="#f7747a"/>
<rect x="1070" y="673.69" width="1" height="25.31" fill="#3cb9a3"/>
<rect x="1070" y="699.00" width="1" height="1.30" fill="#f7747a"/>
<rect x="1072" y="699.00" width="1" height="5.50" fill="#f7747a"/>
<rect x="1074" y="693.21" width="1" height="5.79" fill="#3cb9a3"/>
<rect x="1074" y="699.00" width="1" height="1.30" fill="#f7747a"/>
<rect x="1074" y="700.40" width="1" height="4.10" fill="#fccbcd"/>
<rect x="1076" y="693.21" width="1" height="5.79" fill="#3cb9a3"/>
<rect x="1076" y="699.00" width="1" height="1.30" fill="#f7747a"/>
<rect x="1076" y="700.40" width="1" height="1.10" fill="#fccbcd"/>
<rect x="1078" y="687.59" width="1" height="11.41" fill="#3cb9a3"/>
<rect x="1078" y="699.00" width="1" height="1.30" fill="#f7747a"/>
<rect x="1078" y="700.40" width="1" height="2.10" fill="#fccbcd"/>
<rect x="1080" y="692.22" width="1" height="6.78" fill="#a8e4da"/>
<rect x="1080" y="699.00" width="1" height="5.00" fill="#f7747a"/>
<rect x="1082" y="685.11" width="1" height="13.89" fill="#3cb9a3"/>
<rect x="1082" y="699.00" width="1" height="1.30" fill="#f7747a"/>
<rect x="1084" y="695.00" width="1" height="4.00" fill="#a8e4da"/>
<rect x="1084" y="699.00" width="1" height="7.00" fill="#f7747a"/>
<rect x="1086" y="696.19" width="1" height="2.81" fill="#3cb9a3"/>
<rect x="1086" y="699.00" width="1" height="1.30" fill="#f7747a"/>
<rect x="1088" y="690.07" width="1" height="8.93" fill="#3cb9a3"/>
<rect x="1088" y="699.00" width="1" height="1.30" fill="#f7747a"/>
<rect x="1090" y="695.20" width="1" height="3.80" fill="#3cb9a3"/>
<rect x="1090" y="699.00" width="1" height="1.30" fill="#f7747a"/>
<rect x="1092" y="694.20" width="1" height="4.80" fill="#a8e4da"/>
<rect x="1092" y="699.00" width="1" height="6.50" fill="#f7747a"/>
<rect x="1094" y="691.23" width="1" height="7.77" fill="#3cb9a3"/>
<rect x="1094" y="699.00" width="1" height="1.30" fill="#f7747a"/>
<rect x="1096" y="686.76" width="1" height="12.24" fill="#3cb9a3"/>
<rect x="1096" y="699.00" width="1" height="1.30" fill="#f7747a"/>
<rect x="1096" y="700.40" width="1" height="5.10" fill="#fccbcd"/>
<rect x="1098" y="696.19" width="1" height="2.81" fill="#a8e4da"/>
<rect x="1098" y="699.00" width="1" height="6.50" fill="#f7747a"/>
<rect x="1100" y="693.21" width="1" height="5.79" fill="#3cb9a3"/>
<rect x="1100" y="699.00" width="1" height="1.30" fill="#f7747a"/>
<rect x="1100" y="700.40" width="1" height="2.10" fill="#fccbcd"/>
<rect x="1102" y="684.11" width="1" height="14.89" fill="#a8e4da"/>
<rect x="1102" y="699.00" width="1" height="7.00" fill="#f7747a"/>
<rect x="1104" y="689.08" width="1" height="9.92" fill="#a8e4da"/>
<rect x="1104" y="699.00" width="1" height="6.00" fill="#f7747a"/>
<rect x="1106" y="666.42" width="1" height="32.58" fill="#3cb9a3"/>
<rect x="1106" y="699.00" width="1" height="1.30" fill="#f7747a"/>
<rect x="1106" y="700.40" width="1" height="5.10" fill="#fccbcd"/>
<rect x="1108" y="684.11" width="1" height="14.89" fill="#a8e4da"/>
<rect x="1108" y="699.00" width="1" height="7.00" fill="#f7747a"/>
<rect x="1110" y="695.00" width="1" height="4.00" fill="#a8e4da"/>
<rect x="1110" y="699.00" width="1" height="7.00" fill="#f7747a"/>
<rect x="1112" y="697.18" width="1" height="1.82" fill="#a8e4da"/>
<rect x="1112" y="699.00" width="1" height="8.00" fill="#f7747a"/>
<rect x="1114" y="694.20" width="1" height="4.80" fill="#a8e4da"/>
<rect x="1114" y="699.00" width="1" height="5.50" fill="#f7747a"/>
<rect x="1116" y="691.23" width="1" height="7.77" fill="#3cb9a3"/>
<rect x="1116" y="699.00" width="1" height="1.30" fill="#f7747a"/>
<rect x="1118" y="688.25" width="1" height="10.75" fill="#3cb9a3"/>
<rect x="1118" y="699.00" width="1" height="1.30" fill="#f7747a"/>
<rect x="1120" y="696.00" width="1" height="3.00" fill="#3cb9a3"/>
<rect x="1120" y="699.00" width="1" height="1.30" fill="#f7747a"/>
<rect x="1120" y="700.40" width="1" height="3.10" fill="#fccbcd"/>
<rect x="1122" y="682.13" width="1" height="16.87" fill="#3cb9a3"/>
<rect x="1122" y="699.00" width="1" height="1.30" fill="#f7747a"/>
<rect x="1124" y="694.20" width="1" height="4.80" fill="#a8e4da"/>
<rect x="1124" y="699.00" width="1" height="8.00" fill="#f7747a"/>
<rect x="1126" y="686.26" width="1" height="12.74" fill="#3cb9a3"/>
<rect x="1126" y="699.00" width="1" height="1.30" fill="#f7747a"/>
<rect x="1126" y="700.40" width="1" height="3.10" fill="#fccbcd"/>
<rect x="1128" y="694.20" width="1" height="4.80" fill="#3cb9a3"/>
<rect x="1128" y="699.00" width="1" height="1.30" fill="#f7747a"/>
<rect x="1128" y="700.40" width="1" height="4.10" fill="#fccbcd"/>
<rect x="1130" y="689.57" width="1" height="9.43" fill="#3cb9a3"/>
<rect x="1130" y="699.00" width="1" height="1.30" fill="#f7747a"/>
<rect x="1132" y="690.07" width="1" height="8.93" fill="#3cb9a3"/>
<rect x="1132" y="699.00" width="1" height="1.30" fill="#f7747a"/>
<rect x="1134" y="692.00" width="1" height="7.00" fill="#3cb9a3"/>
<rect x="1134" y="699.00" width="1" height="1.30" fill="#f7747a"/>
<rect x="1134" y="700.40" width="1" height="4.10" fill="#fccbcd"/>
<rect x="1136" y="689.08" width="1" height="9.92" fill="#3cb9a3"/>
<rect x="1136" y="699.00" width="1" height="1.30" fill="#f7747a"/>
<rect x="1138" y="682.13" width="1" height="16.87" fill="#3cb9a3"/>
<rect x="1138" y="699.00" width="1" height="1.30" fill="#f7747a"/>
<rect x="1138" y="700.40" width="1" height="5.10" fill="#fccbcd"/>
<rect x="1140" y="695.00" width="1" height="4.00" fill="#3cb9a3"/>
<rect x="1140" y="699.00" width="1" height="1.30" fill="#f7747a"/>
<rect x="1142" y="694.20" width="1" height="4.80" fill="#a8e4da"/>
<rect x="1142" y="699.00" width="1" height="5.50" fill="#f7747a"/>
<rect x="1144" y="690.07" width="1" height="8.93" fill="#3cb9a3"/>
<rect x="1144" y="699.00" width="1" height="1.30" fill="#f7747a"/>
<rect x="1144" y="700.40" width="1" height="3.10" fill="#fccbcd"/>
<rect x="1146" y="699.00" width="1" height="6.50" fill="#f7747a"/>
<rect x="1148" y="690.07" width="1" height="8.93" fill="#3cb9a3"/>
<rect x="1148" y="699.00" width="1" height="1.30" fill="#f7747a"/>
<rect x="1148" y="700.40" width="1" height="5.10" fill="#fccbcd"/>
<rect x="1150" y="695.00" width="1" height="4.00" fill="#3cb9a3"/>
<rect x="1150" y="699.00" width="1" height="1.30" fill="#f7747a"/>
<rect x="1152" y="699.00" width="1" height="4.50" fill="#f7747a"/>
<rect x="1154" y="695.20" width="1" height="3.80" fill="#3cb9a3"/>
<rect x="1154" y="699.00" width="1" height="1.30" fill="#f7747a"/>
<rect x="1156" y="699.00" width="1" height="5.50" fill="#f7747a"/>
<rect x="1158" y="690.07" width="1" height="8.93" fill="#3cb9a3"/>
<rect x="1158" y="699.00" width="1" height="1.30" fill="#f7747a"/>
<rect x="1158" y="700.40" width="1" height="5.10" fill="#fccbcd"/>
<rect x="1160" y="690.73" width="1" height="8.27" fill="#3cb9a3"/>
<rect x="1160" y="699.00" width="1" height="1.30" fill="#f7747a"/>
<rect x="1162" y="696.00" width="1" height="3.00" fill="#a8e4da"/>
<rect x="1162" y="699.00" width="1" height="7.00" fill="#f7747a"/>
<rect x="1164" y="688.25" width="1" height="10.75" fill="#3cb9a3"/>
<rect x="1164" y="699.00" width="1" height="1.30" fill="#f7747a"/>
<rect x="1164" y="700.40" width="1" height="2.10" fill="#fccbcd"/>
<rect x="1166" y="682.63" width="1" height="16.37" fill="#3cb9a3"/>
<rect x="1166" y="699.00" width="1" height="1.30" fill="#f7747a"/>
<rect x="1168" y="694.00" width="1" height="5.00" fill="#3cb9a3"/>
<rect x="1168" y="699.00" width="1" height="1.30" fill="#f7747a"/>
<rect x="1168" y="700.40" width="1" height="2.10" fill="#fccbcd"/>
<rect x="1170" y="690.07" width="1" height="8.93" fill="#a8e4da"/>
<rect x="1170" y="699.00" width="1" height="7.50" fill="#f7747a"/>
<rect x="1172" y="690.07" width="1" height="8.93" fill="#3cb9a3"/>
<rect x="1172" y="699.00" width="1" height="1.30" fill="#f7747a"/>
<rect x="1174" y="686.76" width="1" height="12.24" fill="#3cb9a3"/>
<rect x="1174" y="699.00" width="1" height="1.30" fill="#f7747a"/>
<rect x="1176" y="692.22" width="1" height="6.78" fill="#3cb9a3"/>
<rect x="1176" y="699.00" width="1" height="1.30" fill="#f7747a"/>
<rect x="1178" y="689.57" width="1" height="9.43" fill="#3cb9a3"/>
<rect x="1178" y="699.00" width="1" height="1.30" fill="#f7747a"/>
<rect x="1178" y="700.40" width="1" height="2.10" fill="#fccbcd"/>
<rect x="1180" y="686.26" width="1" height="12.74" fill="#3cb9a3"/>
<rect x="1180" y="699.00" width="1" height="1.30" fill="#f7747a"/>
<rect x="1180" y="700.40" width="1" height="4.10" fill="#fccbcd"/>
<rect x="1182" y="696.00" width="1" height="3.00" fill="#a8e4da"/>
<rect x="1182" y="699.00" width="1" height="6.50" fill="#f7747a"/>
<rect x="1184" y="689.08" width="1" height="9.92" fill="#3cb9a3"/>
<rect x="1184" y="699.00" width="1" height="1.30" fill="#f7747a"/>
<rect x="1184" y="700.40" width="1" height="1.10" fill="#fccbcd"/>
<rect x="1186" y="698.20" width="1" height="0.80" fill="#a8e4da"/>
<rect x="1186" y="699.00" width="1" height="7.50" fill="#f7747a"/>
<rect x="1188" y="691.56" width="1" height="7.44" fill="#3cb9a3"/>
<rect x="1188" y="699.00" width="1" height="1.30" fill="#f7747a"/>
<rect x="1190" y="692.22" width="1" height="6.78" fill="#3cb9a3"/>
<rect x="1190" y="699.00" width="1" height="1.30" fill="#f7747a"/>
<rect x="1192" y="697.50" width="1" height="1.50" fill="#a8e4da"/>
<rect x="1192" y="699.00" width="1" height="7.00" fill="#f7747a"/>
<rect x="1194" y="696.00" width="1" height="3.00" fill="#a8e4da"/>
<rect x="1194" y="699.00" width="1" height="6.00" fill="#f7747a"/>
<rect x="1196" y="694.20" width="1" height="4.80" fill="#3cb9a3"/>
<rect x="1196" y="699.00" width="1" height="1.30" fill="#f7747a"/>
<rect x="1196" y="700.40" width="1" height="5.10" fill="#fccbcd"/>
<rect x="1198" y="696.00" width="1" height="3.00" fill="#3cb9a3"/>
<rect x="1198" y="699.00" width="1" height="1.30" fill="#f7747a"/>
<rect x="1198" y="700.40" width="1" height="2.10" fill="#fccbcd"/>
<rect x="1200" y="695.00" width="1" height="4.00" fill="#a8e4da"/>
<rect x="1200" y="699.00" width="1" height="5.50" fill="#f7747a"/>
<rect x="1202" y="692.00" width="1" height="7.00" fill="#3cb9a3"/>
<rect x="1202" y="699.00" width="1" height="1.30" fill="#f7747a"/>
<rect x="1202" y="700.40" width="1" height="4.10" fill="#fccbcd"/>
<rect x="1204" y="694.20" width="1" height="4.80" fill="#3cb9a3"/>
<rect x="1204" y="699.00" width="1" height="1.30" fill="#f7747a"/>
<rect x="1204" y="700.40" width="1" height="2.10" fill="#fccbcd"/>
<rect x="1206" y="694.20" width="1" height="4.80" fill="#3cb9a3"/>
<rect x="1206" y="699.00" width="1" height="1.30" fill="#f7747a"/>
<rect x="1206" y="700.40" width="1" height="5.10" fill="#fccbcd"/>
<rect x="1208" y="699.00" width="1" height="4.50" fill="#f7747a"/>
<rect x="1210" y="693.21" width="1" height="5.79" fill="#3cb9a3"/>
<rect x="1210" y="699.00" width="1" height="1.30" fill="#f7747a"/>
<rect x="1212" y="692.00" width="1" height="7.00" fill="#3cb9a3"/>
<rect x="1212" y="699.00" width="1" height="1.30" fill="#f7747a"/>
<rect x="1214" y="697.00" width="1" height="2.00" fill="#a8e4da"/>
<rect x="1214" y="699.00" width="1" height="8.00" fill="#f7747a"/>
<rect x="1216" y="695.20" width="1" height="3.80" fill="#3cb9a3"/>
<rect x="1216" y="699.00" width="1" height="1.30" fill="#f7747a"/>
<rect x="1218" y="697.00" width="1" height="2.00" fill="#a8e4da"/>
<rect x="1218" y="699.00" width="1" height="6.50" fill="#f7747a"/>
<rect x="1220" y="697.00" width="1" height="2.00" fill="#a8e4da"/>
<rect x="1220" y="699.00" width="1" height="7.00" fill="#f7747a"/>
<rect x="1222" y="690.07" width="1" height="8.93" fill="#a8e4da"/>
<rect x="1222" y="699.00" width="1" height="5.00" fill="#f7747a"/>
<rect x="1224" y="689.57" width="1" height="9.43" fill="#3cb9a3"/>
<rect x="1224" y="699.00" width="1" height="1.30" fill="#f7747a"/>
<rect x="1226" y="688.25" width="1" height="10.75" fill="#3cb9a3"/>
<rect x="1226" y="699.00" width="1" height="1.30" fill="#f7747a"/>
<rect x="1226" y="700.40" width="1" height="2.10" fill="#fccbcd"/>
<rect x="1228" y="694.20" width="1" height="4.80" fill="#a8e4da"/>
<rect x="1228" y="699.00" width="1" height="7.00" fill="#f7747a"/>
<rect x="1230" y="693.21" width="1" height="5.79" fill="#a8e4da"/>
<rect x="1230" y="699.00" width="1" height="7.00" fill="#f7747a"/>
<rect x="1232" y="688.25" width="1" height="10.75" fill="#3cb9a3"/>
<rect x="1232" y="699.00" width="1" height="1.30" fill="#f7747a"/>
<rect x="1232" y="700.40" width="1" height="5.10" fill="#fccbcd"/>
<rect x="1234" y="692.22" width="1" height="6.78" fill="#3cb9a3"/>
<rect x="1234" y="699.00" width="1" height="1.30" fill="#f7747a"/>
<rect x="1236" y="696.00" width="1" height="3.00" fill="#a8e4da"/>
<rect x="1236" y="699.00" width="1" height="7.00" fill="#f7747a"/>
<rect x="1238" y="690.07" width="1" height="8.93" fill="#3cb9a3"/>
<rect x="1238" y="699.00" width="1" height="1.30" fill="#f7747a"/>
<rect x="1240" y="692.00" width="1" height="7.00" fill="#3cb9a3"/>
<rect x="1240" y="699.00" width="1" height="1.30" fill="#f7747a"/>
<rect x="1243" y="685.60" width="1" height="13.40" fill="#3cb9a3"/>
<rect x="1243" y="699.00" width="1" height="1.30" fill="#f7747a"/>
<rect x="1245" y="694.00" width="1" height="5.00" fill="#3cb9a3"/>
<rect x="1245" y="699.00" width="1" height="1.30" fill="#f7747a"/>
<rect x="1247" y="689.08" width="1" height="9.92" fill="#3cb9a3"/>
<rect x="1247" y="699.00" width="1" height="1.30" fill="#f7747a"/>
<rect x="1249" y="693.21" width="1" height="5.79" fill="#a8e4da"/>
<rect x="1249" y="699.00" width="1" height="7.50" fill="#f7747a"/>
<rect x="1251" y="692.22" width="1" height="6.78" fill="#a8e4da"/>
<rect x="1251" y="699.00" width="1" height="6.50" fill="#f7747a"/>
<rect x="1253" y="686.76" width="1" height="12.24" fill="#3cb9a3"/>
<rect x="1253" y="699.00" width="1" height="1.30" fill="#f7747a"/>
<rect x="1253" y="700.40" width="1" height="4.10" fill="#fccbcd"/>
<rect x="1255" y="693.21" width="1" height="5.79" fill="#3cb9a3"/>
<rect x="1255" y="699.00" width="1" height="1.30" fill="#f7747a"/>
<rect x="1255" y="700.40" width="1" height="1.10" fill="#fccbcd"/>
<rect x="1257" y="695.20" width="1" height="3.80" fill="#a8e4da"/>
<rect x="1257" y="699.00" width="1" height="8.00" fill="#f7747a"/>
<rect x="1259" y="692.00" width="1" height="7.00" fill="#3cb9a3"/>
<rect x="1259" y="699.00" width="1" height="1.30" fill="#f7747a"/>
<rect x="1261" y="698.20" width="1" height="0.80" fill="#a8e4da"/>
<rect x="1261" y="699.00" width="1" height="8.50" fill="#f7747a"/>
<rect x="1263" y="691.23" width="1" height="7.77" fill="#3cb9a3"/>
<rect x="1263" y="699.00" width="1" height="1.30" fill="#f7747a"/>
<rect x="1263" y="700.40" width="1" height="4.10" fill="#fccbcd"/>
<rect x="1265" y="692.22" width="1" height="6.78" fill="#a8e4da"/>
<rect x="1265" y="699.00" width="1" height="7.00" fill="#f7747a"/>
<rect x="1267" y="696.00" width="1" height="3.00" fill="#3cb9a3"/>
<rect x="1267" y="699.00" width="1" height="1.30" fill="#f7747a"/>
<rect x="1267" y="700.40" width="1" height="2.10" fill="#fccbcd"/>
<rect x="1269" y="685.11" width="1" height="13.89" fill="#3cb9a3"/>
<rect x="1269" y="699.00" width="1" height="1.30" fill="#f7747a"/>
<rect x="1271" y="695.00" width="1" height="4.00" fill="#a8e4da"/>
<rect x="1271" y="699.00" width="1" height="6.50" fill="#f7747a"/>
<rect x="1273" y="696.00" width="1" height="3.00" fill="#3cb9a3"/>
<rect x="1273" y="699.00" width="1" height="1.30" fill="#f7747a"/>
<rect x="1273" y="700.40" width="1" height="4.10" fill="#fccbcd"/>
<rect x="1275" y="689.08" width="1" height="9.92" fill="#3cb9a3"/>
<rect x="1275" y="699.00" width="1" height="1.30" fill="#f7747a"/>
<rect x="1277" y="691.23" width="1" height="7.77" fill="#3cb9a3"/>
<rect x="1277" y="699.00" width="1" height="1.30" fill="#f7747a"/>
<rect x="1279" y="699.00" width="1" height="7.50" fill="#f7747a"/>
<rect x="1281" y="695.20" width="1" height="3.80" fill="#a8e4da"/>
<rect x="1281" y="699.00" width="1" height="7.00" fill="#f7747a"/>
<rect x="1283" y="699.00" width="1" height="8.50" fill="#f7747a"/>
<rect x="1285" y="695.00" width="1" height="4.00" fill="#3cb9a3"/>
<rect x="1285" y="699.00" width="1" height="1.30" fill="#f7747a"/>
<rect x="1287" y="689.08" width="1" height="9.92" fill="#3cb9a3"/>
<rect x="1287" y="699.00" width="1" height="1.30" fill="#f7747a"/>
<rect x="1289" y="682.13" width="1" height="16.87" fill="#3cb9a3"/>
<rect x="1289" y="699.00" width="1" height="1.30" fill="#f7747a"/>
<rect x="1291" y="694.10" width="1" height="4.90" fill="#a8e4da"/>
<rect x="1291" y="699.00" width="1" height="4.80" fill="#f7747a"/>
<rect x="1293" y="698.20" width="1" height="0.80" fill="#a8e4da"/>
<rect x="1293" y="699.00" width="1" height="6.90" fill="#f7747a"/>
<rect x="1295" y="689.10" width="1" height="9.90" fill="#a8e4da"/>
<rect x="1295" y="699.00" width="1" height="9.80" fill="#f7747a"/>
<rect x="1297" y="696.10" width="1" height="2.90" fill="#a8e4da"/>
<rect x="1297" y="699.00" width="1" height="4.80" fill="#f7747a"/>
<rect x="1299" y="684.40" width="1" height="14.60" fill="#3cb9a3"/>
<rect x="1299" y="699.00" width="1" height="1.40" fill="#f7747a"/>
<rect x="1301" y="698.20" width="1" height="0.80" fill="#a8e4da"/>
<rect x="1301" y="699.00" width="1" height="7.90" fill="#f7747a"/>
<rect x="1303" y="689.10" width="1" height="9.90" fill="#a8e4da"/>
<rect x="1303" y="699.00" width="1" height="13.90" fill="#f7747a"/>
<rect x="1305" y="695.40" width="1" height="3.60" fill="#3cb9a3"/>
<rect x="1305" y="699.00" width="1" height="1.40" fill="#f7747a"/>
<rect x="1305" y="700.40" width="1" height="3.40" fill="#fccbcd"/>
<rect x="1307" y="695.20" width="1" height="3.80" fill="#a8e4da"/>
<rect x="1307" y="699.00" width="1" height="7.90" fill="#f7747a"/>
<rect x="1309" y="696.10" width="1" height="2.90" fill="#a8e4da"/>
<rect x="1309" y="699.00" width="1" height="7.90" fill="#f7747a"/>
<rect x="1311" y="697.10" width="1" height="1.90" fill="#a8e4da"/>
<rect x="1311" y="699.00" width="1" height="6.90" fill="#f7747a"/>
<rect x="1313" y="696.10" width="1" height="2.90" fill="#a8e4da"/>
<rect x="1313" y="699.00" width="1" height="6.90" fill="#f7747a"/>
<rect x="1315" y="696.10" width="1" height="2.90" fill="#a8e4da"/>
<rect x="1315" y="699.00" width="1" height="4.80" fill="#f7747a"/>
<rect x="1317" y="685.10" width="1" height="13.90" fill="#3cb9a3"/>
<rect x="1317" y="699.00" width="1" height="1.40" fill="#f7747a"/>
<rect x="1317" y="700.40" width="1" height="5.50" fill="#fccbcd"/>
<rect x="1319" y="690.20" width="1" height="8.80" fill="#3cb9a3"/>
<rect x="1319" y="699.00" width="1" height="1.40" fill="#f7747a"/>
<rect x="1319" y="700.40" width="1" height="2.60" fill="#fccbcd"/>
<rect x="1321" y="680.10" width="1" height="18.90" fill="#3cb9a3"/>
<rect x="1321" y="699.00" width="1" height="1.40" fill="#f7747a"/>
<rect x="1321" y="700.40" width="1" height="3.40" fill="#fccbcd"/>
<rect x="1323" y="694.10" width="1" height="4.90" fill="#3cb9a3"/>
<rect x="1323" y="699.00" width="1" height="1.40" fill="#f7747a"/>
<rect x="1323" y="700.40" width="1" height="3.40" fill="#fccbcd"/>
<rect x="1325" y="699.00" width="1" height="6.90" fill="#f7747a"/>
<rect x="1327" y="697.10" width="1" height="1.90" fill="#a8e4da"/>
<rect x="1327" y="699.00" width="1" height="4.80" fill="#f7747a"/>
<rect x="1329" y="695.20" width="1" height="3.80" fill="#3cb9a3"/>
<rect x="1329" y="699.00" width="1" height="1.40" fill="#f7747a"/>
<rect x="1331" y="694.10" width="1" height="4.90" fill="#a8e4da"/>
<rect x="1331" y="699.00" width="1" height="6.90" fill="#f7747a"/>
<rect x="1333" y="688.00" width="1" height="11.00" fill="#3cb9a3"/>
<rect x="1333" y="699.00" width="1" height="1.40" fill="#f7747a"/>
<rect x="1333" y="700.40" width="1" height="2.60" fill="#fccbcd"/>
<rect x="1335" y="694.50" width="1" height="4.50" fill="#3cb9a3"/>
<rect x="1335" y="699.00" width="1" height="1.60" fill="#f7747a"/>
<rect x="1337" y="684.40" width="1" height="14.60" fill="#3cb9a3"/>
<rect x="1337" y="699.00" width="1" height="1.60" fill="#f7747a"/>
<rect x="1339" y="693.00" width="1" height="6.00" fill="#3cb9a3"/>
<rect x="1339" y="699.00" width="1" height="1.40" fill="#f7747a"/>
<rect x="1339" y="700.40" width="1" height="4.50" fill="#fccbcd"/>
<rect x="1341" y="684.40" width="1" height="14.60" fill="#3cb9a3"/>
<rect x="1341" y="699.00" width="1" height="1.40" fill="#f7747a"/>
<rect x="1341" y="700.40" width="1" height="2.60" fill="#fccbcd"/>
<rect x="1343" y="696.10" width="1" height="2.90" fill="#a8e4da"/>
<rect x="1343" y="699.00" width="1" height="4.80" fill="#f7747a"/>
<rect x="1345" y="696.10" width="1" height="2.90" fill="#3cb9a3"/>
<rect x="1345" y="699.00" width="1" height="1.60" fill="#f7747a"/>
<rect x="1347" y="681.10" width="1" height="8.90" fill="#a8e4da"/>
<rect x="1347" y="690.00" width="1" height="9.00" fill="#3cb9a3"/>
<rect x="1347" y="699.00" width="1" height="1.40" fill="#f7747a"/>
<rect x="1347" y="700.40" width="1" height="4.50" fill="#fccbcd"/>
</g>
<rect x="1356" y="57" width="90" height="17.5" rx="2.5" fill="#089981"/>
<g shape-rendering="crispEdges">
<rect x="17" y="774" width="6" height="4" fill="#83ccc0"/>
<rect x="25" y="774" width="16" height="4" fill="#83ccc0"/>
<rect x="42" y="774" width="13" height="4" fill="#f89aa2"/>
<rect x="56" y="774" width="5" height="4" fill="#83ccc0"/>
<rect x="62" y="774" width="7" height="4" fill="#f89aa2"/>
<rect x="70" y="774" width="9" height="4" fill="#83ccc0"/>
<rect x="87" y="774" width="20" height="4" fill="#f89aa2"/>
<rect x="108" y="774" width="11" height="4" fill="#83ccc0"/>
<rect x="121" y="774" width="4" height="4" fill="#83ccc0"/>
<rect x="126" y="774" width="4" height="4" fill="#f89aa2"/>
<rect x="131" y="774" width="9" height="4" fill="#83ccc0"/>
<rect x="141" y="774" width="9" height="4" fill="#f89aa2"/>
<rect x="151" y="774" width="5" height="4" fill="#83ccc0"/>
<rect x="157" y="774" width="5" height="4" fill="#f89aa2"/>
<rect x="163" y="774" width="9" height="4" fill="#83ccc0"/>
<rect x="173" y="774" width="3" height="4" fill="#f89aa2"/>
<rect x="177" y="774" width="7" height="4" fill="#83ccc0"/>
<rect x="185" y="774" width="5" height="4" fill="#f89aa2"/>
<rect x="192" y="774" width="4" height="4" fill="#f89aa2"/>
<rect x="197" y="774" width="5" height="4" fill="#83ccc0"/>
<rect x="203" y="774" width="7" height="4" fill="#f89aa2"/>
<rect x="211" y="774" width="7" height="4" fill="#83ccc0"/>
<rect x="219" y="774" width="5" height="4" fill="#f89aa2"/>
<rect x="225" y="774" width="11" height="4" fill="#83ccc0"/>
<rect x="238" y="774" width="4" height="4" fill="#83ccc0"/>
<rect x="246" y="774" width="6" height="4" fill="#f89aa2"/>
<rect x="253" y="774" width="17" height="4" fill="#83ccc0"/>
<rect x="272" y="774" width="20" height="4" fill="#83ccc0"/>
<rect x="298" y="774" width="6" height="4" fill="#83ccc0"/>
<rect x="306" y="774" width="4" height="4" fill="#83ccc0"/>
<rect x="314" y="774" width="6" height="4" fill="#f89aa2"/>
<rect x="321" y="774" width="5" height="4" fill="#83ccc0"/>
<rect x="327" y="774" width="5" height="4" fill="#f89aa2"/>
<rect x="333" y="774" width="13" height="4" fill="#83ccc0"/>
<rect x="347" y="774" width="12" height="4" fill="#f89aa2"/>
<rect x="360" y="774" width="9" height="4" fill="#83ccc0"/>
<rect x="371" y="774" width="8" height="4" fill="#83ccc0"/>
<rect x="380" y="774" width="5" height="4" fill="#f89aa2"/>
<rect x="386" y="774" width="3" height="4" fill="#83ccc0"/>
<rect x="390" y="774" width="13" height="4" fill="#f89aa2"/>
<rect x="404" y="774" width="15" height="4" fill="#83ccc0"/>
<rect x="425" y="774" width="4" height="4" fill="#83ccc0"/>
<rect x="430" y="774" width="5" height="4" fill="#f89aa2"/>
<rect x="436" y="774" width="13" height="4" fill="#83ccc0"/>
<rect x="459" y="774" width="6" height="4" fill="#83ccc0"/>
<rect x="466" y="774" width="7" height="4" fill="#f89aa2"/>
<rect x="474" y="774" width="25" height="4" fill="#83ccc0"/>
<rect x="501" y="774" width="12" height="4" fill="#83ccc0"/>
<rect x="515" y="774" width="4" height="4" fill="#83ccc0"/>
<rect x="520" y="774" width="3" height="4" fill="#f89aa2"/>
<rect x="524" y="774" width="7" height="4" fill="#83ccc0"/>
<rect x="533" y="774" width="12" height="4" fill="#83ccc0"/>
<rect x="546" y="774" width="3" height="4" fill="#f89aa2"/>
<rect x="550" y="774" width="3" height="4" fill="#83ccc0"/>
<rect x="555" y="774" width="14" height="4" fill="#83ccc0"/>
<rect x="576" y="774" width="12" height="4" fill="#83ccc0"/>
<rect x="589" y="774" width="5" height="4" fill="#f89aa2"/>
<rect x="595" y="774" width="5" height="4" fill="#83ccc0"/>
<rect x="602" y="774" width="6" height="4" fill="#83ccc0"/>
<rect x="610" y="774" width="10" height="4" fill="#83ccc0"/>
<rect x="621" y="774" width="7" height="4" fill="#f89aa2"/>
<rect x="629" y="774" width="3" height="4" fill="#83ccc0"/>
<rect x="640" y="774" width="4" height="4" fill="#f89aa2"/>
<rect x="645" y="774" width="5" height="4" fill="#83ccc0"/>
<rect x="651" y="774" width="5" height="4" fill="#f89aa2"/>
<rect x="657" y="774" width="7" height="4" fill="#83ccc0"/>
<rect x="665" y="774" width="3" height="4" fill="#f89aa2"/>
<rect x="678" y="774" width="20" height="4" fill="#f89aa2"/>
<rect x="699" y="774" width="3" height="4" fill="#83ccc0"/>
<rect x="704" y="774" width="6" height="4" fill="#83ccc0"/>
<rect x="712" y="774" width="4" height="4" fill="#83ccc0"/>
<rect x="718" y="774" width="8" height="4" fill="#83ccc0"/>
<rect x="732" y="774" width="16" height="4" fill="#83ccc0"/>
<rect x="754" y="774" width="6" height="4" fill="#83ccc0"/>
<rect x="762" y="774" width="8" height="4" fill="#83ccc0"/>
<rect x="776" y="774" width="4" height="4" fill="#83ccc0"/>
<rect x="782" y="774" width="13" height="4" fill="#83ccc0"/>
<rect x="801" y="774" width="8" height="4" fill="#83ccc0"/>
<rect x="811" y="774" width="14" height="4" fill="#83ccc0"/>
<rect x="827" y="774" width="6" height="4" fill="#83ccc0"/>
<rect x="835" y="774" width="10" height="4" fill="#83ccc0"/>
<rect x="851" y="774" width="16" height="4" fill="#83ccc0"/>
<rect x="868" y="774" width="7" height="4" fill="#f89aa2"/>
<rect x="876" y="774" width="3" height="4" fill="#83ccc0"/>
<rect x="881" y="774" width="4" height="4" fill="#83ccc0"/>
<rect x="886" y="774" width="5" height="4" fill="#f89aa2"/>
<rect x="892" y="774" width="3" height="4" fill="#83ccc0"/>
<rect x="897" y="774" width="6" height="4" fill="#83ccc0"/>
<rect x="904" y="774" width="15" height="4" fill="#f89aa2"/>
<rect x="920" y="774" width="5" height="4" fill="#83ccc0"/>
<rect x="927" y="774" width="14" height="4" fill="#83ccc0"/>
<rect x="942" y="774" width="5" height="4" fill="#f89aa2"/>
<rect x="948" y="774" width="7" height="4" fill="#83ccc0"/>
<rect x="956" y="774" width="7" height="4" fill="#f89aa2"/>
<rect x="964" y="774" width="5" height="4" fill="#83ccc0"/>
<rect x="971" y="774" width="6" height="4" fill="#83ccc0"/>
<rect x="979" y="774" width="4" height="4" fill="#83ccc0"/>
<rect x="991" y="774" width="4" height="4" fill="#f89aa2"/>
<rect x="996" y="774" width="11" height="4" fill="#83ccc0"/>
<rect x="1022" y="774" width="4" height="4" fill="#83ccc0"/>
<rect x="1027" y="774" width="5" height="4" fill="#f89aa2"/>
<rect x="1033" y="774" width="7" height="4" fill="#83ccc0"/>
<rect x="1044" y="774" width="8" height="4" fill="#f89aa2"/>
<rect x="1053" y="774" width="13" height="4" fill="#83ccc0"/>
<rect x="1072" y="774" width="6" height="4" fill="#83ccc0"/>
<rect x="1084" y="774" width="6" height="4" fill="#83ccc0"/>
<rect x="1092" y="774" width="4" height="4" fill="#83ccc0"/>
<rect x="1097" y="774" width="7" height="4" fill="#f89aa2"/>
<rect x="1106" y="774" width="8" height="4" fill="#f89aa2"/>
<rect x="1115" y="774" width="7" height="4" fill="#83ccc0"/>
<rect x="1124" y="774" width="8" height="4" fill="#83ccc0"/>
<rect x="1134" y="774" width="4" height="4" fill="#83ccc0"/>
<rect x="1139" y="774" width="13" height="4" fill="#f89aa2"/>
<rect x="1153" y="774" width="7" height="4" fill="#83ccc0"/>
<rect x="1162" y="774" width="4" height="4" fill="#83ccc0"/>
<rect x="1167" y="774" width="3" height="4" fill="#f89aa2"/>
<rect x="1171" y="774" width="9" height="4" fill="#83ccc0"/>
<rect x="1186" y="774" width="4" height="4" fill="#83ccc0"/>
<rect x="1191" y="774" width="31" height="4" fill="#f89aa2"/>
<rect x="1223" y="774" width="20" height="4" fill="#83ccc0"/>
<rect x="1247" y="774" width="4" height="4" fill="#f89aa2"/>
<rect x="1252" y="774" width="3" height="4" fill="#83ccc0"/>
<rect x="1256" y="774" width="59" height="4" fill="#f89aa2"/>
<rect x="1316" y="774" width="25" height="4" fill="#83ccc0"/>
</g>
<defs><clipPath id="cu"><rect x="0" y="0" width="1451" height="699"/></clipPath><clipPath id="cd"><rect x="0" y="699" width="1451" height="110"/></clipPath></defs>
<path d="M17.0,698.7 L420.0,698.7 L480.0,698.5 L520.0,698.3 L560.0,698.1 L600.0,697.6 L620.0,697.2 L640.0,696.8 L662.0,696.5 L684.0,696.2 L700.6,695.8 L717.0,695.3 L730.4,694.5 L739.0,693.1 L746.0,692.0 L756.0,691.8 L764.6,691.4 L770.0,690.6 L774.5,690.1 L786.6,689.8 L791.0,687.9 L796.0,687.7 L800.0,687.6 L800.4,687.6 L803.8,686.7 L807.3,685.4 L809.5,684.8 L812.5,684.3 L816.0,683.8 L819.4,683.0 L822.9,682.4 L824.6,681.8 L827.2,682.3 L831.5,681.7 L835.0,681.8 L838.5,680.9 L840.2,679.2 L841.9,678.2 L844.5,677.4 L846.7,677.9 L848.8,676.7 L851.0,677.4 L854.0,676.1 L858.4,674.1 L860.5,672.4 L863.1,671.4 L864.9,668.1 L866.6,666.8 L870.9,668.5 L874.8,670.2 L876.5,668.9 L878.7,665.5 L880.9,666.8 L884.8,665.3 L887.8,667.0 L890.4,668.9 L892.5,664.7 L894.7,663.1 L896.9,664.0 L898.9,662.9 L901.1,660.1 L902.8,657.6 L905.0,658.6 L906.9,657.9 L909.1,659.3 L910.9,660.9 L912.8,659.9 L915.0,661.2 L917.0,660.4 L919.1,661.8 L921.1,660.1 L923.1,657.1 L925.0,655.3 L927.3,657.1 L929.5,656.2 L932.8,654.3 L935.1,653.4 L936.7,648.4 L938.9,645.1 L940.9,640.6 L943.4,642.8 L947.3,645.6 L951.2,635.1 L953.4,627.8 L955.1,623.7 L957.3,626.2 L959.2,627.0 L961.2,626.4 L963.2,628.4 L967.3,623.4 L969.5,621.5 L971.4,623.9 L973.2,614.8 L975.1,611.5 L977.3,608.9 L979.5,611.1 L981.4,608.4 L983.2,595.6 L985.1,599.7 L987.1,595.6 L989.0,596.7 L991.2,593.7 L993.4,597.2 L995.5,600.0 L997.3,595.9 L999.3,598.2 L1001.0,596.1 L1003.5,599.0 L1005.2,596.5 L1007.3,588.7 L1009.4,590.8 L1011.5,580.8 L1013.6,583.3 L1015.3,578.7 L1017.8,582.4 L1019.5,577.8 L1021.6,582.9 L1025.2,565.6 L1027.3,568.6 L1029.4,567.5 L1031.5,570.7 L1033.6,564.6 L1036.7,558.7 L1039.5,552.8 L1041.3,556.6 L1043.7,552.8 L1047.2,559.3 L1051.8,566.0 L1057.7,548.2 L1060.9,534.5 L1062.4,529.3 L1065.5,524.7 L1067.6,531.4 L1069.7,510.0 L1071.8,512.9 L1075.0,505.1 L1077.7,490.8 L1079.4,496.3 L1081.9,482.4 L1083.6,485.2 L1085.7,483.5 L1087.8,474.2 L1089.7,470.0 L1092.0,479.3 L1095.5,455.6 L1097.3,462.7 L1099.5,456.4 L1101.5,465.3 L1103.8,470.2 L1105.8,431.7 L1109.8,444.5 L1113.7,460.3 L1118.3,436.6 L1119.8,442.9 L1122.0,420.8 L1124.0,425.3 L1126.0,407.0 L1127.9,400.0 L1131.9,371.8 L1133.9,384.2 L1135.8,368.4 L1137.8,340.2 L1139.8,348.7 L1142.0,361.5 L1143.8,345.7 L1145.9,356.0 L1147.9,340.4 L1149.9,352.6 L1151.9,368.0 L1153.8,362.1 L1155.8,367.4 L1158.2,349.6 L1160.2,337.8 L1162.1,347.7 L1164.1,331.9 L1166.2,297.5 L1170.2,317.8 L1174.1,272.8 L1176.7,252.0 L1180.0,208.5 L1182.0,226.9 L1184.0,202.2 L1186.2,217.0 L1190.3,181.0 L1194.3,212.5 L1196.2,201.2 L1199.4,220.4 L1202.2,238.2 L1206.3,217.0 L1208.3,227.3 L1210.3,214.5 L1214.2,242.7 L1216.2,233.2 L1218.2,242.1 L1220.6,257.0 L1222.5,260.3 L1226.3,213.9 L1230.2,246.7 L1232.4,218.2 L1234.5,205.7 L1236.5,216.3 L1238.5,194.5 L1240.4,183.0 L1242.2,147.8 L1244.3,167.2 L1246.3,141.2 L1248.3,161.2 L1250.5,181.9 L1252.3,149.0 L1254.5,135.1 L1258.3,174.1 L1260.3,187.9 L1262.5,167.9 L1264.5,181.2 L1266.5,199.1 L1268.5,163.4 L1270.5,174.6 L1272.5,185.7 L1276.5,137.8 L1280.8,170.1 L1284.6,204.6 L1286.8,171.2 L1288.8,135.1 L1292.8,166.0 L1294.8,192.0 L1296.7,205.3 L1298.8,167.9 L1300.7,187.3 L1302.8,223.5 L1304.7,216.3 L1306.6,234.0 L1314.7,289.8 L1316.9,258.5 L1318.7,240.4 L1320.9,194.3 L1322.9,182.5 L1325.0,199.7 L1327.0,211.1 L1328.8,202.0 L1330.8,218.5 L1332.6,192.5 L1334.8,181.7 L1337.0,143.1 L1338.8,127.6 L1340.7,85.3 L1342.8,100.4 L1344.7,93.6 L1347.3,65.7" fill="none" stroke="#089981" stroke-width="2" stroke-linejoin="round" stroke-linecap="butt" clip-path="url(#cu)"/>
<path d="M17.0,698.7 L420.0,698.7 L480.0,698.5 L520.0,698.3 L560.0,698.1 L600.0,697.6 L620.0,697.2 L640.0,696.8 L662.0,696.5 L684.0,696.2 L700.6,695.8 L717.0,695.3 L730.4,694.5 L739.0,693.1 L746.0,692.0 L756.0,691.8 L764.6,691.4 L770.0,690.6 L774.5,690.1 L786.6,689.8 L791.0,687.9 L796.0,687.7 L800.0,687.6 L800.4,687.6 L803.8,686.7 L807.3,685.4 L809.5,684.8 L812.5,684.3 L816.0,683.8 L819.4,683.0 L822.9,682.4 L824.6,681.8 L827.2,682.3 L831.5,681.7 L835.0,681.8 L838.5,680.9 L840.2,679.2 L841.9,678.2 L844.5,677.4 L846.7,677.9 L848.8,676.7 L851.0,677.4 L854.0,676.1 L858.4,674.1 L860.5,672.4 L863.1,671.4 L864.9,668.1 L866.6,666.8 L870.9,668.5 L874.8,670.2 L876.5,668.9 L878.7,665.5 L880.9,666.8 L884.8,665.3 L887.8,667.0 L890.4,668.9 L892.5,664.7 L894.7,663.1 L896.9,664.0 L898.9,662.9 L901.1,660.1 L902.8,657.6 L905.0,658.6 L906.9,657.9 L909.1,659.3 L910.9,660.9 L912.8,659.9 L915.0,661.2 L917.0,660.4 L919.1,661.8 L921.1,660.1 L923.1,657.1 L925.0,655.3 L927.3,657.1 L929.5,656.2 L932.8,654.3 L935.1,653.4 L936.7,648.4 L938.9,645.1 L940.9,640.6 L943.4,642.8 L947.3,645.6 L951.2,635.1 L953.4,627.8 L955.1,623.7 L957.3,626.2 L959.2,627.0 L961.2,626.4 L963.2,628.4 L967.3,623.4 L969.5,621.5 L971.4,623.9 L973.2,614.8 L975.1,611.5 L977.3,608.9 L979.5,611.1 L981.4,608.4 L983.2,595.6 L985.1,599.7 L987.1,595.6 L989.0,596.7 L991.2,593.7 L993.4,597.2 L995.5,600.0 L997.3,595.9 L999.3,598.2 L1001.0,596.1 L1003.5,599.0 L1005.2,596.5 L1007.3,588.7 L1009.4,590.8 L1011.5,580.8 L1013.6,583.3 L1015.3,578.7 L1017.8,582.4 L1019.5,577.8 L1021.6,582.9 L1025.2,565.6 L1027.3,568.6 L1029.4,567.5 L1031.5,570.7 L1033.6,564.6 L1036.7,558.7 L1039.5,552.8 L1041.3,556.6 L1043.7,552.8 L1047.2,559.3 L1051.8,566.0 L1057.7,548.2 L1060.9,534.5 L1062.4,529.3 L1065.5,524.7 L1067.6,531.4 L1069.7,510.0 L1071.8,512.9 L1075.0,505.1 L1077.7,490.8 L1079.4,496.3 L1081.9,482.4 L1083.6,485.2 L1085.7,483.5 L1087.8,474.2 L1089.7,470.0 L1092.0,479.3 L1095.5,455.6 L1097.3,462.7 L1099.5,456.4 L1101.5,465.3 L1103.8,470.2 L1105.8,431.7 L1109.8,444.5 L1113.7,460.3 L1118.3,436.6 L1119.8,442.9 L1122.0,420.8 L1124.0,425.3 L1126.0,407.0 L1127.9,400.0 L1131.9,371.8 L1133.9,384.2 L1135.8,368.4 L1137.8,340.2 L1139.8,348.7 L1142.0,361.5 L1143.8,345.7 L1145.9,356.0 L1147.9,340.4 L1149.9,352.6 L1151.9,368.0 L1153.8,362.1 L1155.8,367.4 L1158.2,349.6 L1160.2,337.8 L1162.1,347.7 L1164.1,331.9 L1166.2,297.5 L1170.2,317.8 L1174.1,272.8 L1176.7,252.0 L1180.0,208.5 L1182.0,226.9 L1184.0,202.2 L1186.2,217.0 L1190.3,181.0 L1194.3,212.5 L1196.2,201.2 L1199.4,220.4 L1202.2,238.2 L1206.3,217.0 L1208.3,227.3 L1210.3,214.5 L1214.2,242.7 L1216.2,233.2 L1218.2,242.1 L1220.6,257.0 L1222.5,260.3 L1226.3,213.9 L1230.2,246.7 L1232.4,218.2 L1234.5,205.7 L1236.5,216.3 L1238.5,194.5 L1240.4,183.0 L1242.2,147.8 L1244.3,167.2 L1246.3,141.2 L1248.3,161.2 L1250.5,181.9 L1252.3,149.0 L1254.5,135.1 L1258.3,174.1 L1260.3,187.9 L1262.5,167.9 L1264.5,181.2 L1266.5,199.1 L1268.5,163.4 L1270.5,174.6 L1272.5,185.7 L1276.5,137.8 L1280.8,170.1 L1284.6,204.6 L1286.8,171.2 L1288.8,135.1 L1292.8,166.0 L1294.8,192.0 L1296.7,205.3 L1298.8,167.9 L1300.7,187.3 L1302.8,223.5 L1304.7,216.3 L1306.6,234.0 L1314.7,289.8 L1316.9,258.5 L1318.7,240.4 L1320.9,194.3 L1322.9,182.5 L1325.0,199.7 L1327.0,211.1 L1328.8,202.0 L1330.8,218.5 L1332.6,192.5 L1334.8,181.7 L1337.0,143.1 L1338.8,127.6 L1340.7,85.3 L1342.8,100.4 L1344.7,93.6 L1347.3,65.7" fill="none" stroke="#f23645" stroke-width="2" stroke-linejoin="round" stroke-linecap="butt" clip-path="url(#cd)"/>
</svg>
<div class="badge"><span>43.643.530,00</span></div>
<div class="yl" style="top:75px">42.500.000,00</div>
<div class="yl" style="top:111px">40.000.000,00</div>
<div class="yl" style="top:148px">37.500.000,00</div>
<div class="yl" style="top:184px">35.000.000,00</div>
<div class="yl" style="top:220px">32.500.000,00</div>
<div class="yl" style="top:256px">30.000.000,00</div>
<div class="yl" style="top:293px">27.500.000,00</div>
<div class="yl" style="top:329px">25.000.000,00</div>
<div class="yl" style="top:365px">22.500.000,00</div>
<div class="yl" style="top:401px">20.000.000,00</div>
<div class="yl" style="top:438px">17.500.000,00</div>
<div class="yl" style="top:474px">15.000.000,00</div>
<div class="yl" style="top:510px">12.500.000,00</div>
<div class="yl" style="top:546px">10.000.000,00</div>
<div class="yl" style="top:582px">7.500.000,00</div>
<div class="yl" style="top:619px">5.000.000,00</div>
<div class="yl" style="top:655px">2.500.000,00</div>
<div class="yl" style="top:692px">0</div>
<div class="yl" style="top:728px">−2.500.000,00</div>
<div class="yl" style="top:764px">−5.000.000,00</div>
<div class="xl" style="left:65px">feb</div>
<div class="xl" style="left:200px">abr</div>
<div class="xl" style="left:324.5px">jun</div>
<div class="xl" style="left:439px">ago</div>
<div class="xl" style="left:523px">sept</div>
<div class="xl" style="left:604px">10</div>
<div class="xl b" style="left:714px">2025</div>
<div class="xl" style="left:828px">mar</div>
<div class="xl" style="left:949px">may</div>
<div class="xl" style="left:1030px">jul</div>
<div class="xl" style="left:1122px">oct</div>
<div class="xl" style="left:1204.5px">8</div>
<div class="xl b" style="left:1321px">2026</div>
</body></html>
